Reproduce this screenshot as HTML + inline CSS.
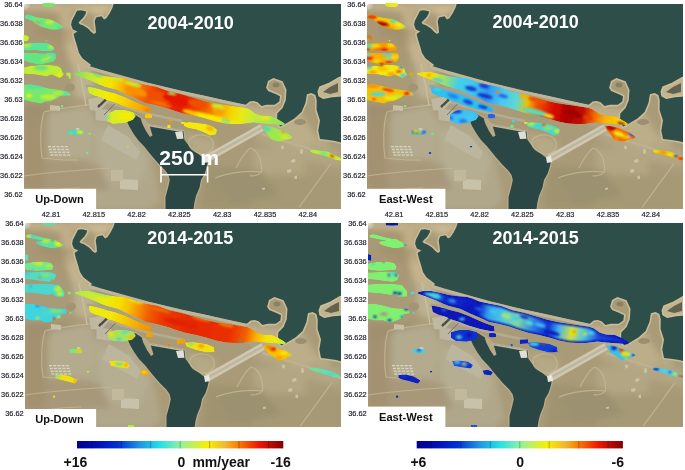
<!DOCTYPE html>
<html><head><meta charset="utf-8">
<style>
html,body{margin:0;padding:0;background:#fff;width:685px;height:470px;overflow:hidden}
svg{position:absolute;left:0;top:0}
text{font-family:"Liberation Sans",sans-serif}
.tk{font-size:7.4px;fill:#1c1c26;stroke:#1c1c26;stroke-width:0.18px}
.ti{font-size:18px;font-weight:bold;fill:#fff}
.lb{font-size:11.6px;font-weight:bold;fill:#111}
.cb{font-size:14px;font-weight:bold;fill:#111}
</style></head>
<body>
<svg width="685" height="470" viewBox="0 0 685 470">
<defs>
<filter id="bl" x="-5%" y="-5%" width="110%" height="110%"><feGaussianBlur stdDeviation="0.7"/></filter>
<filter id="bl2" x="-10%" y="-10%" width="120%" height="120%"><feGaussianBlur stdDeviation="1.5"/></filter>
<filter id="bl3" x="-10%" y="-10%" width="120%" height="120%"><feGaussianBlur stdDeviation="3"/></filter>
<filter id="pb" x="-10%" y="-10%" width="120%" height="120%"><feGaussianBlur stdDeviation="1.1"/></filter>
<filter id="mb" x="0" y="0" width="1" height="1"><feGaussianBlur stdDeviation="0.5"/></filter>
<filter id="sb" x="-2%" y="-2%" width="104%" height="104%"><feGaussianBlur stdDeviation="0.4"/></filter>
<linearGradient id="jet" x1="0" x2="1" y1="0" y2="0">
<stop offset="0" stop-color="#000090"/><stop offset="0.1" stop-color="#0010b8"/><stop offset="0.2" stop-color="#0030d8"/><stop offset="0.3" stop-color="#2090e0"/><stop offset="0.4" stop-color="#20e0e8"/>
<stop offset="0.5" stop-color="#90f0a0"/><stop offset="0.58" stop-color="#d0f040"/><stop offset="0.63" stop-color="#f8f000"/><stop offset="0.72" stop-color="#f0b830"/><stop offset="0.78" stop-color="#f88000"/><stop offset="0.88" stop-color="#f01800"/><stop offset="1" stop-color="#800000"/>
</linearGradient>
<linearGradient id="gTL" gradientUnits="userSpaceOnUse" x1="74" y1="74" x2="285" y2="124"><stop offset="0.000" stop-color="#80dc60"/><stop offset="0.066" stop-color="#b4e840"/><stop offset="0.123" stop-color="#e0ea18"/><stop offset="0.180" stop-color="#f4e200"/><stop offset="0.227" stop-color="#f8b800"/><stop offset="0.275" stop-color="#f89000"/><stop offset="0.322" stop-color="#f46c00"/><stop offset="0.384" stop-color="#ee4000"/><stop offset="0.445" stop-color="#e82400"/><stop offset="0.526" stop-color="#e61e00"/><stop offset="0.597" stop-color="#f04800"/><stop offset="0.654" stop-color="#f47800"/><stop offset="0.701" stop-color="#f8a800"/><stop offset="0.749" stop-color="#f4d800"/><stop offset="0.796" stop-color="#e8ea18"/><stop offset="0.858" stop-color="#c0ea3c"/><stop offset="0.919" stop-color="#a8e84c"/><stop offset="1.000" stop-color="#90e060"/></linearGradient><linearGradient id="gTL2" gradientUnits="userSpaceOnUse" x1="88" y1="88" x2="150" y2="110"><stop offset="0.000" stop-color="#c8ec30"/><stop offset="0.194" stop-color="#e8ec10"/><stop offset="0.387" stop-color="#f4ea00"/><stop offset="0.597" stop-color="#f8d000"/><stop offset="0.806" stop-color="#f8b000"/><stop offset="1.000" stop-color="#f89000"/></linearGradient><linearGradient id="gTR" gradientUnits="userSpaceOnUse" x1="74" y1="74" x2="285" y2="124"><stop offset="0.000" stop-color="#f0e010"/><stop offset="0.052" stop-color="#f4e000"/><stop offset="0.123" stop-color="#a8e060"/><stop offset="0.194" stop-color="#40d0e8"/><stop offset="0.265" stop-color="#40c8f0"/><stop offset="0.336" stop-color="#3098f0"/><stop offset="0.408" stop-color="#48c8f0"/><stop offset="0.479" stop-color="#60d8d0"/><stop offset="0.526" stop-color="#f0c000"/><stop offset="0.573" stop-color="#f05000"/><stop offset="0.645" stop-color="#d81000"/><stop offset="0.716" stop-color="#b00000"/><stop offset="0.787" stop-color="#c01000"/><stop offset="0.834" stop-color="#f06000"/><stop offset="0.891" stop-color="#f8b000"/><stop offset="0.953" stop-color="#f8d000"/><stop offset="1.000" stop-color="#f0e010"/></linearGradient><linearGradient id="gBL" gradientUnits="userSpaceOnUse" x1="74" y1="74" x2="285" y2="124"><stop offset="0.000" stop-color="#b0e848"/><stop offset="0.076" stop-color="#c8ec30"/><stop offset="0.147" stop-color="#e8ec10"/><stop offset="0.209" stop-color="#f4e000"/><stop offset="0.256" stop-color="#f8c000"/><stop offset="0.303" stop-color="#f89000"/><stop offset="0.351" stop-color="#f06000"/><stop offset="0.408" stop-color="#ec3c00"/><stop offset="0.550" stop-color="#e82800"/><stop offset="0.739" stop-color="#ea3000"/><stop offset="0.810" stop-color="#f06000"/><stop offset="0.858" stop-color="#f8b000"/><stop offset="0.905" stop-color="#f4e008"/><stop offset="0.953" stop-color="#eeea10"/><stop offset="1.000" stop-color="#b0e850"/></linearGradient><linearGradient id="gBL2" gradientUnits="userSpaceOnUse" x1="88" y1="88" x2="150" y2="110"><stop offset="0.000" stop-color="#e8ec10"/><stop offset="0.355" stop-color="#f4e808"/><stop offset="0.597" stop-color="#f8c800"/><stop offset="0.839" stop-color="#f8a000"/><stop offset="1.000" stop-color="#f89000"/></linearGradient><linearGradient id="gBR" gradientUnits="userSpaceOnUse" x1="74" y1="74" x2="285" y2="124"><stop offset="0.000" stop-color="#40d0e0"/><stop offset="0.076" stop-color="#50d8e0"/><stop offset="0.123" stop-color="#1030d0"/><stop offset="0.218" stop-color="#0a20c8"/><stop offset="0.289" stop-color="#0818c0"/><stop offset="0.336" stop-color="#30a0f0"/><stop offset="0.408" stop-color="#50c8e0"/><stop offset="0.479" stop-color="#80d8a0"/><stop offset="0.550" stop-color="#3080e8"/><stop offset="0.621" stop-color="#1030d0"/><stop offset="0.668" stop-color="#40b0f0"/><stop offset="0.730" stop-color="#d0e040"/><stop offset="0.787" stop-color="#50c8e0"/><stop offset="0.858" stop-color="#2050e0"/><stop offset="0.929" stop-color="#1030d0"/><stop offset="1.000" stop-color="#1030d0"/></linearGradient>
<radialGradient id="corner"><stop offset="0" stop-color="#f4f4f4" stop-opacity="0.9"/><stop offset="0.5" stop-color="#e0e0e0" stop-opacity="0.5"/><stop offset="1" stop-color="#ffffff" stop-opacity="0"/></radialGradient>
<clipPath id="cm"><rect x="24" y="4" width="317" height="205"/></clipPath>
<clipPath id="cTL"><path d="M42.0,3.2 L48.0,2.9 L55.0,3.3 L55.3,5.5 L53.0,6.9 L46.0,7.0 L42.2,6.0 Z"/><path d="M25.5,15.3 L28.1,14.5 L31.6,15.3 L36.0,17.1 L42.1,18.0 L48.3,18.8 L53.5,20.6 L58.8,23.6 L63.2,26.3 L62.3,28.0 L57.0,29.8 L51.8,29.8 L44.8,28.0 L39.5,26.3 L35.1,23.6 L32.5,21.0 L29.0,19.7 L25.5,18.4 L24.5,17.0 Z"/><path d="M23.3,35.0 L27.0,35.2 L29.0,37.0 L28.5,40.5 L25.0,41.6 L23.3,41.0 Z"/><path d="M45.6,39.8 L47.4,39.8 L47.4,41.6 L45.6,41.6 Z"/><path d="M23.8,43.8 L30.8,42.9 L39.5,42.4 L48.3,43.3 L53.5,46.4 L54.4,49.9 L50.9,51.2 L43.9,51.2 L35.1,50.3 L27.3,50.8 L23.8,50.3 Z"/><path d="M23.8,52.5 L35.1,53.0 L44.8,53.4 L50.0,52.5 L55.7,53.4 L56.2,57.8 L54.4,61.3 L48.3,63.0 L39.5,64.8 L30.8,63.0 L23.8,60.4 Z"/><path d="M23.8,67.4 L30.8,65.7 L46.5,64.8 L57.0,65.7 L61.4,68.3 L62.3,71.8 L64.0,74.6 L61.5,77.0 L59.7,78.1 L56.0,76.5 L51.8,74.6 L46.5,76.4 L35.1,74.6 L23.8,73.8 Z"/><path d="M66.2,72.4 L70.6,72.6 L71.0,75.5 L70.5,79.0 L68.9,79.0 L68.5,76.4 L66.2,75.5 Z"/><path d="M23.8,84.7 L30.8,84.3 L39.5,86.0 L48.3,88.2 L57.0,89.5 L63.2,90.4 L68.4,92.2 L71.0,93.9 L69.7,95.7 L60.5,95.7 L57.0,98.3 L50.9,100.9 L44.8,101.8 L41.3,103.5 L30.8,101.8 L23.8,100.0 Z"/><path d="M60.8,105.0 L63.4,105.0 L63.4,107.6 L60.8,107.6 Z"/><path d="M68.0,129.8 L75.5,130.0 L83.8,130.2 L83.5,134.6 L76.0,135.0 L68.0,135.0 Z"/><path d="M88.2,132.4 L91.2,132.4 L91.2,135.0 L88.2,135.0 Z"/><path d="M85.8,152.0 L88.2,152.0 L88.2,154.0 L85.8,154.0 Z"/><path d="M126.7,146.0 L129.2,146.0 L129.2,147.6 L126.7,147.6 Z"/><path d="M74.1,73.1 L79.3,71.9 L87.5,71.9 L95.7,73.7 L105.0,76.0 L114.4,77.2 L122.6,77.8 L128.4,79.5 L135.4,82.4 L145.0,84.5 L156.7,86.8 L168.4,91.2 L180.0,93.8 L191.7,97.3 L203.4,100.8 L215.0,103.2 L226.7,104.9 L238.4,106.7 L245.4,107.8 L250.0,109.6 L255.9,113.7 L261.7,115.4 L271.0,116.0 L276.9,118.4 L281.6,121.3 L285.0,123.6 L283.9,125.4 L278.0,124.8 L271.0,124.2 L261.7,123.6 L253.5,122.5 L250.0,123.0 L241.9,124.0 L232.5,124.0 L225.0,123.5 L215.0,121.5 L205.0,118.5 L195.0,116.0 L185.0,114.0 L175.0,111.0 L165.0,107.5 L155.0,105.0 L145.0,103.0 L135.4,98.5 L126.0,94.5 L116.7,90.0 L105.0,87.0 L99.2,84.8 L93.4,82.0 L81.7,77.5 L74.1,74.8 Z"/><path d="M87.5,86.5 L93.4,87.5 L100.4,89.3 L105.0,90.8 L115.0,93.2 L125.0,97.0 L131.9,100.3 L140.0,103.8 L147.0,106.3 L150.0,107.3 L150.5,112.0 L147.0,112.2 L135.9,110.0 L124.2,106.5 L114.0,102.5 L107.4,100.5 L100.8,97.5 L95.0,96.0 L88.7,93.0 Z"/><path d="M145.0,114.3 L149.0,113.8 L152.0,114.5 L152.0,118.0 L148.0,118.5 L145.0,117.8 Z"/><path d="M107.0,114.0 L115.0,110.0 L125.0,110.0 L133.0,112.0 L136.0,116.0 L133.0,120.0 L125.0,123.0 L113.0,124.0 L107.0,121.0 Z"/><path d="M169.0,119.5 L172.4,119.5 L172.4,122.4 L169.0,122.4 Z"/><path d="M181.2,121.8 L184.7,121.8 L184.7,124.1 L181.2,124.1 Z"/><path d="M167.2,124.7 L170.7,124.7 L170.7,128.0 L167.2,128.0 Z"/><path d="M183.5,122.5 L190.0,122.0 L198.0,123.0 L205.7,124.0 L212.0,126.0 L217.0,129.5 L216.0,134.5 L210.0,135.5 L203.0,132.0 L196.0,129.5 L188.0,128.0 L184.0,126.0 Z"/><path d="M262.3,126.0 L267.6,126.0 L275.7,127.7 L280.4,130.0 L285.0,131.8 L289.7,134.7 L293.2,137.0 L290.9,138.8 L285.0,140.0 L280.4,141.7 L275.7,141.1 L271.0,139.4 L267.6,134.7 L264.0,130.0 Z"/><path d="M310.0,149.9 L315.7,149.9 L321.8,150.8 L327.9,151.6 L332.3,153.4 L337.6,156.5 L341.0,158.2 L341.0,160.8 L335.8,160.0 L330.5,158.2 L325.3,156.0 L320.0,154.7 L313.9,153.4 L310.4,152.1 Z"/></clipPath><clipPath id="cTR"><path d="M42.0,3.2 L48.0,2.9 L55.0,3.3 L55.3,5.5 L53.0,6.9 L46.0,7.0 L42.2,6.0 Z"/><path d="M25.5,15.3 L28.1,14.5 L31.6,15.3 L36.0,17.1 L42.1,18.0 L48.3,18.8 L53.5,20.6 L58.8,23.6 L63.2,26.3 L62.3,28.0 L57.0,29.8 L51.8,29.8 L44.8,28.0 L39.5,26.3 L35.1,23.6 L32.5,21.0 L29.0,19.7 L25.5,18.4 L24.5,17.0 Z"/><path d="M23.3,35.0 L27.0,35.2 L29.0,37.0 L28.5,40.5 L25.0,41.6 L23.3,41.0 Z"/><path d="M45.6,39.8 L47.4,39.8 L47.4,41.6 L45.6,41.6 Z"/><path d="M23.8,43.8 L30.8,42.9 L39.5,42.4 L48.3,43.3 L53.5,46.4 L54.4,49.9 L50.9,51.2 L43.9,51.2 L35.1,50.3 L27.3,50.8 L23.8,50.3 Z"/><path d="M23.8,52.5 L35.1,53.0 L44.8,53.4 L50.0,52.5 L55.7,53.4 L56.2,57.8 L54.4,61.3 L48.3,63.0 L39.5,64.8 L30.8,63.0 L23.8,60.4 Z"/><path d="M23.8,67.4 L30.8,65.7 L46.5,64.8 L57.0,65.7 L61.4,68.3 L62.3,71.8 L64.0,74.6 L61.5,77.0 L59.7,78.1 L56.0,76.5 L51.8,74.6 L46.5,76.4 L35.1,74.6 L23.8,73.8 Z"/><path d="M66.2,72.4 L70.6,72.6 L71.0,75.5 L70.5,79.0 L68.9,79.0 L68.5,76.4 L66.2,75.5 Z"/><path d="M23.8,84.7 L30.8,84.3 L39.5,86.0 L48.3,88.2 L57.0,89.5 L63.2,90.4 L68.4,92.2 L71.0,93.9 L69.7,95.7 L60.5,95.7 L57.0,98.3 L50.9,100.9 L44.8,101.8 L41.3,103.5 L30.8,101.8 L23.8,100.0 Z"/><path d="M60.8,105.0 L63.4,105.0 L63.4,107.6 L60.8,107.6 Z"/><path d="M68.0,129.8 L75.5,130.0 L83.8,130.2 L83.5,134.6 L76.0,135.0 L68.0,135.0 Z"/><path d="M88.2,132.4 L91.2,132.4 L91.2,135.0 L88.2,135.0 Z"/><path d="M85.8,152.0 L88.2,152.0 L88.2,154.0 L85.8,154.0 Z"/><path d="M126.7,146.0 L129.2,146.0 L129.2,147.6 L126.7,147.6 Z"/><path d="M74.1,73.1 L79.3,71.9 L87.5,71.9 L95.7,73.7 L105.0,76.0 L114.4,77.2 L122.6,77.8 L128.4,79.5 L135.4,82.4 L145.0,84.5 L156.7,86.8 L168.4,91.2 L180.0,93.8 L191.7,97.3 L203.4,100.8 L215.0,103.2 L226.7,104.9 L238.4,106.7 L245.4,107.8 L250.0,109.6 L255.9,113.7 L261.7,115.4 L271.0,116.0 L276.9,118.4 L281.6,121.3 L285.0,123.6 L283.9,125.4 L278.0,124.8 L271.0,124.2 L261.7,123.6 L253.5,122.5 L250.0,123.0 L241.9,124.0 L232.5,124.0 L225.0,123.5 L215.0,121.5 L205.0,118.5 L195.0,116.0 L185.0,114.0 L175.0,111.0 L165.0,107.5 L155.0,105.0 L145.0,103.0 L135.4,98.5 L126.0,94.5 L116.7,90.0 L105.0,87.0 L99.2,84.8 L93.4,82.0 L81.7,77.5 L74.1,74.8 Z"/><path d="M87.5,86.5 L93.4,87.5 L100.4,89.3 L105.0,90.8 L115.0,93.2 L125.0,97.0 L131.9,100.3 L140.0,103.8 L147.0,106.3 L150.0,107.3 L150.5,112.0 L147.0,112.2 L135.9,110.0 L124.2,106.5 L114.0,102.5 L107.4,100.5 L100.8,97.5 L95.0,96.0 L88.7,93.0 Z"/><path d="M145.0,114.3 L149.0,113.8 L152.0,114.5 L152.0,118.0 L148.0,118.5 L145.0,117.8 Z"/><path d="M107.0,114.0 L115.0,110.0 L125.0,110.0 L133.0,112.0 L136.0,116.0 L133.0,120.0 L125.0,123.0 L113.0,124.0 L107.0,121.0 Z"/><path d="M169.0,119.5 L172.4,119.5 L172.4,122.4 L169.0,122.4 Z"/><path d="M181.2,121.8 L184.7,121.8 L184.7,124.1 L181.2,124.1 Z"/><path d="M167.2,124.7 L170.7,124.7 L170.7,128.0 L167.2,128.0 Z"/><path d="M183.5,122.5 L190.0,122.0 L198.0,123.0 L205.7,124.0 L212.0,126.0 L217.0,129.5 L216.0,134.5 L210.0,135.5 L203.0,132.0 L196.0,129.5 L188.0,128.0 L184.0,126.0 Z"/><path d="M262.3,126.0 L267.6,126.0 L275.7,127.7 L280.4,130.0 L285.0,131.8 L289.7,134.7 L293.2,137.0 L290.9,138.8 L285.0,140.0 L280.4,141.7 L275.7,141.1 L271.0,139.4 L267.6,134.7 L264.0,130.0 Z"/><path d="M310.0,149.9 L315.7,149.9 L321.8,150.8 L327.9,151.6 L332.3,153.4 L337.6,156.5 L341.0,158.2 L341.0,160.8 L335.8,160.0 L330.5,158.2 L325.3,156.0 L320.0,154.7 L313.9,153.4 L310.4,152.1 Z"/></clipPath><clipPath id="cBL"><path d="M41.7,3.1 L48.0,2.9 L54.0,3.1 L54.0,6.6 L48.0,6.8 L41.7,6.6 Z"/><path d="M25.1,16.2 L29.0,14.9 L35.1,16.6 L42.1,18.4 L48.3,19.7 L51.8,19.7 L54.4,21.0 L58.8,23.6 L63.2,26.3 L59.7,28.0 L53.5,29.3 L48.3,28.9 L42.1,27.6 L36.9,25.8 L34.7,23.6 L36.0,22.5 L42.1,21.5 L35.1,20.6 L29.0,19.3 L25.5,18.4 Z"/><path d="M23.8,35.0 L27.3,35.9 L27.3,42.0 L23.8,41.0 Z"/><path d="M23.8,44.6 L32.5,42.9 L42.1,42.4 L50.0,43.8 L52.7,47.3 L51.8,50.8 L43.9,51.6 L35.1,52.1 L27.3,51.2 L23.8,50.3 Z"/><path d="M23.8,53.4 L35.1,53.0 L43.0,52.5 L51.8,53.4 L55.3,56.0 L53.5,61.3 L48.3,63.0 L40.0,62.0 L33.0,61.0 L28.0,60.5 L23.8,60.0 Z"/><path d="M23.8,65.5 L35.0,64.8 L50.0,65.0 L58.0,66.0 L60.5,69.0 L63.2,72.5 L63.2,77.8 L54.4,77.8 L51.8,75.1 L46.5,76.0 L35.1,74.3 L23.8,73.4 Z"/><path d="M66.7,72.5 L70.2,72.5 L70.2,75.6 L66.7,75.6 Z"/><path d="M23.8,84.8 L30.8,84.8 L39.5,86.5 L48.3,89.1 L57.0,89.6 L64.9,90.0 L65.8,94.4 L59.7,95.3 L59.7,98.8 L55.3,100.5 L48.3,103.2 L43.9,103.6 L39.5,101.4 L30.8,101.4 L23.8,99.7 Z"/><path d="M68.4,93.1 L70.6,93.1 L70.6,95.3 L68.4,95.3 Z"/><path d="M74.1,73.1 L79.3,71.9 L87.5,71.9 L95.7,73.7 L105.0,76.0 L114.4,77.2 L122.6,77.8 L128.4,79.5 L135.4,82.4 L145.0,84.5 L156.7,86.8 L168.4,91.2 L180.0,93.8 L191.7,97.3 L203.4,100.8 L215.0,103.2 L226.7,104.9 L238.4,106.7 L245.4,107.8 L250.0,109.6 L255.9,113.7 L261.7,115.4 L271.0,116.0 L276.9,118.4 L281.6,121.3 L285.0,123.6 L283.9,125.4 L278.0,124.8 L271.0,124.2 L261.7,123.6 L253.5,122.5 L250.0,123.0 L241.9,124.0 L232.5,124.0 L225.0,123.5 L215.0,121.5 L205.0,118.5 L195.0,116.0 L185.0,114.0 L175.0,111.0 L165.0,107.5 L155.0,105.0 L145.0,103.0 L135.4,98.5 L126.0,94.5 L116.7,90.0 L105.0,87.0 L99.2,84.8 L93.4,82.0 L81.7,77.5 L74.1,74.8 Z"/><path d="M87.5,86.5 L93.4,87.5 L100.4,89.3 L105.0,90.8 L115.0,93.2 L125.0,97.0 L131.9,100.3 L140.0,103.8 L147.0,106.3 L150.0,107.3 L150.5,112.0 L147.0,112.2 L135.9,110.0 L124.2,106.5 L114.0,102.5 L107.4,100.5 L100.8,97.5 L95.0,96.0 L88.7,93.0 Z"/><path d="M145.0,114.3 L149.0,113.8 L152.0,114.5 L152.0,118.0 L148.0,118.5 L145.0,117.8 Z"/><path d="M106.9,113.0 L115.0,111.0 L125.0,111.0 L133.0,113.0 L135.0,117.0 L131.0,121.0 L122.0,122.7 L112.0,122.0 L107.0,119.0 Z"/><path d="M183.5,123.5 L192.0,123.0 L200.0,124.0 L205.7,125.0 L213.0,128.0 L213.7,133.0 L205.0,133.6 L195.0,131.0 L186.0,128.0 Z"/><path d="M261.7,127.1 L267.6,126.0 L273.4,127.7 L278.0,130.0 L283.9,131.2 L289.7,134.7 L292.1,136.5 L287.4,138.2 L282.7,140.5 L278.0,141.7 L272.2,137.6 L267.6,134.7 L264.0,130.0 Z"/><path d="M309.0,148.5 L316.0,149.0 L324.0,150.5 L331.0,152.5 L339.0,156.5 L339.0,159.3 L331.0,157.5 L322.0,155.0 L314.0,152.5 L309.0,151.0 Z"/><path d="M68.4,130.0 L75.0,129.7 L81.2,130.5 L81.0,134.4 L72.0,134.2 L68.4,133.5 Z"/><path d="M108.0,142.0 L115.0,141.4 L124.0,142.5 L129.0,146.0 L127.0,149.5 L118.0,148.5 L110.0,147.0 Z"/><path d="M138.5,151.5 L144.0,150.7 L149.0,153.0 L147.0,156.5 L140.0,155.5 Z"/><path d="M54.4,156.0 L62.0,155.4 L70.0,157.5 L76.6,161.5 L74.0,164.7 L66.0,162.5 L58.0,160.5 L54.4,159.0 Z"/><path d="M52.0,176.4 L54.4,176.4 L54.4,178.7 L52.0,178.7 Z"/><path d="M85.9,151.9 L88.2,151.9 L88.2,153.5 L85.9,153.5 Z"/><path d="M166.5,125.0 L168.8,125.0 L168.8,127.4 L166.5,127.4 Z"/><path d="M175.8,120.5 L184.0,120.3 L184.0,124.5 L175.8,125.0 Z"/><path d="M127.0,206.0 L133.0,206.0 L133.0,209.0 L127.0,209.0 Z"/></clipPath><clipPath id="cBR"><path d="M41.7,3.1 L48.0,2.9 L54.0,3.1 L54.0,6.6 L48.0,6.8 L41.7,6.6 Z"/><path d="M25.1,16.2 L29.0,14.9 L35.1,16.6 L42.1,18.4 L48.3,19.7 L51.8,19.7 L54.4,21.0 L58.8,23.6 L63.2,26.3 L59.7,28.0 L53.5,29.3 L48.3,28.9 L42.1,27.6 L36.9,25.8 L34.7,23.6 L36.0,22.5 L42.1,21.5 L35.1,20.6 L29.0,19.3 L25.5,18.4 Z"/><path d="M23.8,35.0 L27.3,35.9 L27.3,42.0 L23.8,41.0 Z"/><path d="M23.8,44.6 L32.5,42.9 L42.1,42.4 L50.0,43.8 L52.7,47.3 L51.8,50.8 L43.9,51.6 L35.1,52.1 L27.3,51.2 L23.8,50.3 Z"/><path d="M23.8,53.4 L35.1,53.0 L43.0,52.5 L51.8,53.4 L55.3,56.0 L53.5,61.3 L48.3,63.0 L40.0,62.0 L33.0,61.0 L28.0,60.5 L23.8,60.0 Z"/><path d="M23.8,65.5 L35.0,64.8 L50.0,65.0 L58.0,66.0 L60.5,69.0 L63.2,72.5 L63.2,77.8 L54.4,77.8 L51.8,75.1 L46.5,76.0 L35.1,74.3 L23.8,73.4 Z"/><path d="M66.7,72.5 L70.2,72.5 L70.2,75.6 L66.7,75.6 Z"/><path d="M23.8,84.8 L30.8,84.8 L39.5,86.5 L48.3,89.1 L57.0,89.6 L64.9,90.0 L65.8,94.4 L59.7,95.3 L59.7,98.8 L55.3,100.5 L48.3,103.2 L43.9,103.6 L39.5,101.4 L30.8,101.4 L23.8,99.7 Z"/><path d="M68.4,93.1 L70.6,93.1 L70.6,95.3 L68.4,95.3 Z"/><path d="M74.1,73.1 L79.3,71.9 L87.5,71.9 L95.7,73.7 L105.0,76.0 L114.4,77.2 L122.6,77.8 L128.4,79.5 L135.4,82.4 L145.0,84.5 L156.7,86.8 L168.4,91.2 L180.0,93.8 L191.7,97.3 L203.4,100.8 L215.0,103.2 L226.7,104.9 L238.4,106.7 L245.4,107.8 L250.0,109.6 L255.9,113.7 L261.7,115.4 L271.0,116.0 L276.9,118.4 L281.6,121.3 L285.0,123.6 L283.9,125.4 L278.0,124.8 L271.0,124.2 L261.7,123.6 L253.5,122.5 L250.0,123.0 L241.9,124.0 L232.5,124.0 L225.0,123.5 L215.0,121.5 L205.0,118.5 L195.0,116.0 L185.0,114.0 L175.0,111.0 L165.0,107.5 L155.0,105.0 L145.0,103.0 L135.4,98.5 L126.0,94.5 L116.7,90.0 L105.0,87.0 L99.2,84.8 L93.4,82.0 L81.7,77.5 L74.1,74.8 Z"/><path d="M87.5,86.5 L93.4,87.5 L100.4,89.3 L105.0,90.8 L115.0,93.2 L125.0,97.0 L131.9,100.3 L140.0,103.8 L147.0,106.3 L150.0,107.3 L150.5,112.0 L147.0,112.2 L135.9,110.0 L124.2,106.5 L114.0,102.5 L107.4,100.5 L100.8,97.5 L95.0,96.0 L88.7,93.0 Z"/><path d="M145.0,114.3 L149.0,113.8 L152.0,114.5 L152.0,118.0 L148.0,118.5 L145.0,117.8 Z"/><path d="M106.9,113.0 L115.0,111.0 L125.0,111.0 L133.0,113.0 L135.0,117.0 L131.0,121.0 L122.0,122.7 L112.0,122.0 L107.0,119.0 Z"/><path d="M183.5,123.5 L192.0,123.0 L200.0,124.0 L205.7,125.0 L213.0,128.0 L213.7,133.0 L205.0,133.6 L195.0,131.0 L186.0,128.0 Z"/><path d="M261.7,127.1 L267.6,126.0 L273.4,127.7 L278.0,130.0 L283.9,131.2 L289.7,134.7 L292.1,136.5 L287.4,138.2 L282.7,140.5 L278.0,141.7 L272.2,137.6 L267.6,134.7 L264.0,130.0 Z"/><path d="M309.0,148.5 L316.0,149.0 L324.0,150.5 L331.0,152.5 L339.0,156.5 L339.0,159.3 L331.0,157.5 L322.0,155.0 L314.0,152.5 L309.0,151.0 Z"/><path d="M68.4,130.0 L75.0,129.7 L81.2,130.5 L81.0,134.4 L72.0,134.2 L68.4,133.5 Z"/><path d="M108.0,142.0 L115.0,141.4 L124.0,142.5 L129.0,146.0 L127.0,149.5 L118.0,148.5 L110.0,147.0 Z"/><path d="M138.5,151.5 L144.0,150.7 L149.0,153.0 L147.0,156.5 L140.0,155.5 Z"/><path d="M54.4,156.0 L62.0,155.4 L70.0,157.5 L76.6,161.5 L74.0,164.7 L66.0,162.5 L58.0,160.5 L54.4,159.0 Z"/><path d="M52.0,176.4 L54.4,176.4 L54.4,178.7 L52.0,178.7 Z"/><path d="M85.9,151.9 L88.2,151.9 L88.2,153.5 L85.9,153.5 Z"/><path d="M166.5,125.0 L168.8,125.0 L168.8,127.4 L166.5,127.4 Z"/><path d="M175.8,120.5 L184.0,120.3 L184.0,124.5 L175.8,125.0 Z"/><path d="M127.0,206.0 L133.0,206.0 L133.0,209.0 L127.0,209.0 Z"/></clipPath>
<g id="base"><g clip-path="url(#cm)"><g filter="url(#mb)"><rect x="24" y="4" width="317" height="205" fill="#a99b78"/><g filter="url(#bl3)"><path fill="#cbb993" d="M24.0,4.0 L115.0,4.0 L112.0,10.0 L100.0,17.0 L93.0,14.0 L86.0,10.0 L70.0,9.0 L60.0,12.0 L45.0,9.0 L24.0,9.0 Z"/><path fill="#a99774" d="M24.0,12.0 L60.0,14.0 L66.0,30.0 L66.0,62.0 L24.0,64.0 Z"/><path fill="#c6b48e" d="M60.0,10.0 L72.0,10.0 L76.0,40.0 L82.0,56.0 L92.0,66.0 L80.0,70.0 L70.0,62.0 L64.0,40.0 Z"/><path fill="#9e8b69" d="M38.0,29.0 L72.0,31.0 L72.0,35.0 L38.0,33.0 Z"/><path fill="#a08d6b" d="M50.0,38.0 L73.0,39.0 L73.0,41.5 L50.0,41.0 Z"/><path fill="#c0ae88" d="M58.0,5.0 L73.0,5.0 L73.0,28.0 L61.0,28.0 Z"/><path fill="#9f8e6e" d="M24.0,105.0 L42.0,106.0 L42.0,113.0 L24.0,113.0 Z"/><path fill="#a08f70" d="M24.0,104.0 L70.0,104.0 L75.0,112.0 L50.0,118.0 L24.0,120.0 Z"/><path fill="#a3916f" d="M24.0,120.0 L42.0,120.0 L44.0,190.0 L24.0,190.0 Z"/><path fill="#bcb192" d="M72.0,64.0 L92.0,68.0 L96.0,96.0 L86.0,100.0 L74.0,96.0 Z"/><path fill="#b4ab8f" d="M48.0,112.0 L88.0,106.0 L96.0,125.0 L90.0,160.0 L48.0,158.0 Z"/><path fill="#b0a78b" d="M96.0,120.0 L125.0,114.0 L150.0,150.0 L160.0,200.0 L150.0,209.0 L96.0,209.0 L80.0,190.0 L90.0,160.0 Z"/><path fill="#b6ae92" d="M96.0,128.0 L130.0,135.0 L148.0,160.0 L140.0,185.0 L100.0,180.0 Z"/><path fill="#a0946f" d="M205.0,165.0 L250.0,168.0 L262.0,185.0 L250.0,209.0 L200.0,209.0 Z"/><path fill="#a59a75" d="M262.0,180.0 L341.0,175.0 L341.0,209.0 L250.0,209.0 Z"/><path fill="#b2a683" d="M252.0,148.0 L305.0,150.0 L305.0,175.0 L254.0,174.0 Z"/><path fill="#b8ab88" d="M295.0,130.0 L328.0,140.0 L330.0,152.0 L297.0,152.0 Z"/><path fill="#b3a683" d="M255.0,125.0 L341.0,152.0 L341.0,168.0 L300.0,160.0 L255.0,140.0 Z"/><path fill="#a89f85" d="M92.0,96.0 L125.0,104.0 L125.0,122.0 L95.0,118.0 Z"/><path fill="#bcae89" d="M240.0,104.0 L300.0,112.0 L318.0,140.0 L300.0,150.0 L262.0,128.0 L245.0,120.0 Z"/><path fill="#b6a985" d="M184.0,133.0 L214.0,140.0 L216.0,158.0 L195.0,158.0 Z"/><path fill="#9c916f" d="M215.0,175.0 L260.0,170.0 L280.0,195.0 L230.0,205.0 Z"/><path fill="#a7987a" d="M44.0,160.0 L100.0,165.0 L110.0,190.0 L44.0,190.0 Z"/></g><path fill="none" stroke="#c9bb96" stroke-width="3.2" stroke-linejoin="round" d="M113.7,4.0 L341.0,4.0 L341.0,142.5 L335.0,141.0 L328.5,140.0 L320.0,139.0 L318.3,130.6 L320.0,120.4 L316.6,110.0 L316.7,100.2 L315.4,95.0 L311.5,93.0 L306.9,94.3 L305.5,102.8 L301.6,112.0 L294.4,118.6 L285.2,123.9 L280.0,126.5 L277.0,120.0 L277.3,113.4 L282.6,108.1 L285.8,100.2 L286.5,89.7 L282.6,81.2 L273.4,77.9 L268.0,81.0 L266.1,87.7 L268.1,91.0 L276.0,94.3 L280.0,96.3 L279.3,101.5 L274.7,104.8 L266.8,104.8 L261.5,106.1 L257.6,102.2 L253.6,100.9 L249.7,101.5 L245.4,105.1 L226.7,101.0 L203.4,95.8 L180.0,90.8 L146.7,82.8 L123.4,76.4 L100.0,69.9 L88.7,66.4 L91.3,65.1 L87.9,62.4 L82.4,58.3 L79.0,52.9 L77.0,46.1 L74.9,39.3 L73.6,33.9 L77.3,31.5 L72.9,29.4 L71.1,25.0 L71.8,21.0 L74.6,15.5 L77.0,10.7 L81.0,10.2 L86.2,11.5 L85.5,14.0 L83.4,17.5 L79.7,21.3 L78.5,22.8 L80.0,24.3 L83.0,25.3 L88.0,28.4 L91.3,32.0 L94.0,33.9 L96.0,32.5 L95.5,27.0 L94.7,21.6 L96.0,17.5 L101.5,16.2 L104.0,19.4 L106.4,18.2 L109.7,13.3 L112.5,7.7 Z"/><path fill="#2f4f4a" d="M113.7,4.0 L341.0,4.0 L341.0,142.5 L335.0,141.0 L328.5,140.0 L320.0,139.0 L318.3,130.6 L320.0,120.4 L316.6,110.0 L316.7,100.2 L315.4,95.0 L311.5,93.0 L306.9,94.3 L305.5,102.8 L301.6,112.0 L294.4,118.6 L285.2,123.9 L280.0,126.5 L277.0,120.0 L277.3,113.4 L282.6,108.1 L285.8,100.2 L286.5,89.7 L282.6,81.2 L273.4,77.9 L268.0,81.0 L266.1,87.7 L268.1,91.0 L276.0,94.3 L280.0,96.3 L279.3,101.5 L274.7,104.8 L266.8,104.8 L261.5,106.1 L257.6,102.2 L253.6,100.9 L249.7,101.5 L245.4,105.1 L226.7,101.0 L203.4,95.8 L180.0,90.8 L146.7,82.8 L123.4,76.4 L100.0,69.9 L88.7,66.4 L91.3,65.1 L87.9,62.4 L82.4,58.3 L79.0,52.9 L77.0,46.1 L74.9,39.3 L73.6,33.9 L77.3,31.5 L72.9,29.4 L71.1,25.0 L71.8,21.0 L74.6,15.5 L77.0,10.7 L81.0,10.2 L86.2,11.5 L85.5,14.0 L83.4,17.5 L79.7,21.3 L78.5,22.8 L80.0,24.3 L83.0,25.3 L88.0,28.4 L91.3,32.0 L94.0,33.9 L96.0,32.5 L95.5,27.0 L94.7,21.6 L96.0,17.5 L101.5,16.2 L104.0,19.4 L106.4,18.2 L109.7,13.3 L112.5,7.7 Z"/><path fill="#c2b48f" stroke="#cdbf9a" stroke-width="1.5" d="M318.3,91.5 L320.0,87.2 L328.5,83.8 L338.7,77.9 L341.0,77.0 L341.0,95.7 L331.9,96.6 L323.4,98.3 L319.1,95.7 Z"/><path fill="#626250" filter="url(#bl)" d="M323,92 L330,87 L338,83 L338,92 L330,94 Z"/><g filter="url(#bl)"><ellipse cx="276" cy="85" rx="3.5" ry="2.5" fill="#8a8264"/><ellipse cx="300" cy="122" rx="6" ry="3" fill="#9a8f70"/></g><path fill="none" stroke="#b9ab88" stroke-width="2.5" stroke-linejoin="round" d="M126.0,119.0 L129.0,113.0 L134.3,114.2 L141.0,118.5 L144.0,121.0 L148.3,124.9 L165.0,128.0 L182.3,131.3 L183.4,131.3 L184.4,139.8 L190.8,148.3 L199.3,154.7 L207.9,161.5 L206.5,168.0 L204.5,174.0 L201.0,180.0 L199.5,187.5 L196.0,196.0 L194.5,202.0 L193.5,209.0 L165.5,209.0 L165.5,197.0 L168.0,188.0 L169.8,180.0 L168.5,175.0 L165.3,170.5 L159.0,164.3 L152.5,156.8 L144.0,146.2 L138.0,140.0 L133.4,133.4 L129.0,126.0 Z"/><path fill="#2c4745" d="M126.0,119.0 L129.0,113.0 L134.3,114.2 L141.0,118.5 L144.0,121.0 L148.3,124.9 L165.0,128.0 L182.3,131.3 L183.4,131.3 L184.4,139.8 L190.8,148.3 L199.3,154.7 L207.9,161.5 L206.5,168.0 L204.5,174.0 L201.0,180.0 L199.5,187.5 L196.0,196.0 L194.5,202.0 L193.5,209.0 L165.5,209.0 L165.5,197.0 L168.0,188.0 L169.8,180.0 L168.5,175.0 L165.3,170.5 L159.0,164.3 L152.5,156.8 L144.0,146.2 L138.0,140.0 L133.4,133.4 L129.0,126.0 Z"/><path fill="#b8aa88" d="M140.8,118.5 L145,119 L150,127 L152.5,135.5 L150,137 L146,131 L142,123 Z"/><path stroke="#bdb6a3" stroke-width="1.6" fill="none" d="M148.3,125.5 L182.3,131.5"/><path fill="#e0ded6" filter="url(#bl)" d="M175,132 L182.5,131.5 L183.5,138.7 L177,139 Z"/><path stroke="#bfb59a" stroke-width="3" fill="none" d="M88.7,67.5 L100,71 L123.4,77.5 L146.7,84 L180,92 L203.4,97 L226.7,102.2 L245.4,106.3"/><path stroke="#a9a28a" stroke-width="3" fill="none" d="M86,86 L112,90 L130,97 L150,102.5 L170,108 L200,115 L230,121 L260,125"/><path stroke="#b3ab92" stroke-width="2.5" fill="none" d="M95,98 L120,106 L145,113 L170,118.5 L182,121"/><path stroke="#cfc8b0" stroke-width="7.5" fill="none" d="M206,159 L262,127.5"/><path stroke="#bdb59d" stroke-width="2.5" fill="none" d="M206,159 L262,127.5"/><path fill="#e8e6e0" filter="url(#bl)" d="M203,157 L208,156 L209,162 L204,163 Z"/><g fill="none" stroke="#c4b896" stroke-width="1.2" opacity="0.8"><path d="M44,112 C40,125 40,145 42,158 L64,160 L78,160"/><path d="M44,112 C60,108 80,106 95,104"/><path d="M24,176 C50,172 80,170 110,168"/><path d="M24,196 C45,190 60,188 80,188"/><path d="M299,207.4 L331,163.7"/><path d="M189,140 C195,133 210,133 213,142 C215,152 205,157 196,152 C190,149 188,145 189,140"/><path d="M250,148 C258,150 262,160 261.6,171.6 C258,176 252,176 249.7,175.6"/><path d="M250,148 C245,152 240,160 236,168"/><path d="M215,178 C230,172 245,170 262,172"/></g><path fill="none" stroke="#bdb192" stroke-width="2.4" d="M261.6,134 L307,147.8 L341,159.7"/><g fill="#d4ccb4" opacity="0.75" filter="url(#bl)"><path d="M281,146 L283.5,145.5 L284,149 L281.5,149.5 Z"/><path d="M291,160 L295,159 L295.5,162 L291.5,163 Z"/><path d="M300.5,149 L303,149.5 L302.5,154 L300,153.5 Z"/><path d="M287,170 L291,169 L291.5,172 L287.5,173 Z"/><path d="M294.5,176 L297,175.5 L297,179 L294.5,179 Z"/><path d="M262,188 L265,187.5 L265,189.5 L262,190 Z"/></g><rect x="48.0" y="146.0" width="3" height="1.3" fill="#d8d2c0"/><rect x="52.2" y="146.0" width="3" height="1.3" fill="#d8d2c0"/><rect x="56.4" y="146.0" width="3" height="1.3" fill="#d8d2c0"/><rect x="60.6" y="146.0" width="3" height="1.3" fill="#d8d2c0"/><rect x="64.8" y="146.0" width="3" height="1.3" fill="#d8d2c0"/><rect x="48.8" y="148.8" width="3" height="1.3" fill="#d8d2c0"/><rect x="53.0" y="148.8" width="3" height="1.3" fill="#d8d2c0"/><rect x="57.2" y="148.8" width="3" height="1.3" fill="#d8d2c0"/><rect x="61.4" y="148.8" width="3" height="1.3" fill="#d8d2c0"/><rect x="65.6" y="148.8" width="3" height="1.3" fill="#d8d2c0"/><rect x="49.6" y="151.6" width="3" height="1.3" fill="#d8d2c0"/><rect x="53.8" y="151.6" width="3" height="1.3" fill="#d8d2c0"/><rect x="58.0" y="151.6" width="3" height="1.3" fill="#d8d2c0"/><rect x="62.2" y="151.6" width="3" height="1.3" fill="#d8d2c0"/><rect x="66.4" y="151.6" width="3" height="1.3" fill="#d8d2c0"/><rect x="50.4" y="154.4" width="3" height="1.3" fill="#d8d2c0"/><rect x="54.6" y="154.4" width="3" height="1.3" fill="#d8d2c0"/><rect x="58.8" y="154.4" width="3" height="1.3" fill="#d8d2c0"/><rect x="63.0" y="154.4" width="3" height="1.3" fill="#d8d2c0"/><rect x="67.2" y="154.4" width="3" height="1.3" fill="#d8d2c0"/><g filter="url(#bl)"><path fill="#bcb69e" d="M108,125 L128,137 L140,152 L136,160 L120,151 L101,140 Z"/><path fill="#c9c2ab" d="M120,179 L138,180 L138,190 L120,189 Z"/><path fill="#c2b89c" d="M111,170 L123,170 L123,181 L111,181 Z"/><path fill="#c0b9a2" d="M88,99 L103,96.5 L109,101 L100,111 L90,110 Z"/><path fill="#cfc8b2" d="M75.9,128 L79.4,128 L79.4,133.3 L75.9,133.3 Z"/><path fill="#c8c0a6" d="M50,105 L60,106 L60,111 L50,110 Z"/></g><g filter="url(#bl)"><ellipse cx="70" cy="87.5" rx="5" ry="4" fill="#a39476"/><path fill="#bdb6a0" d="M95.5,108.7 L110.4,110 L110.4,122 L95.5,120 Z"/><path fill="none" stroke="#c9bf9f" stroke-width="1.3" d="M78,64 C80,75 84,90 86,106"/></g><g fill="#4d4c44"><ellipse cx="99.1" cy="105.8" rx="1.3" ry="2.0" transform="rotate(40 99.1 105.8)"/><ellipse cx="101.4" cy="103.9" rx="1.3" ry="2.0" transform="rotate(40 101.4 103.9)"/><ellipse cx="103.3" cy="102" rx="1.3" ry="2.0" transform="rotate(40 103.3 102)"/><ellipse cx="105.2" cy="100.1" rx="1.3" ry="2.0" transform="rotate(40 105.2 100.1)"/></g><path d="M104,115 L114.5,104" stroke="#6b675a" stroke-width="0.9" fill="none"/><circle cx="24" cy="4" r="7" fill="url(#corner)"/></g></g></g>
</defs>
<use href="#base"/>
<use href="#base" transform="translate(343,0)"/>
<use href="#base" transform="translate(1,219)"/>
<use href="#base" transform="translate(344,219)"/>
<g filter="url(#sb)"><g clip-path="url(#cTL)"><path fill="#6eeb64" d="M42.0,3.2 L48.0,2.9 L55.0,3.3 L55.3,5.5 L53.0,6.9 L46.0,7.0 L42.2,6.0 Z"/><path fill="#6ee878" d="M25.5,15.3 L28.1,14.5 L31.6,15.3 L36.0,17.1 L42.1,18.0 L48.3,18.8 L53.5,20.6 L58.8,23.6 L63.2,26.3 L62.3,28.0 L57.0,29.8 L51.8,29.8 L44.8,28.0 L39.5,26.3 L35.1,23.6 L32.5,21.0 L29.0,19.7 L25.5,18.4 L24.5,17.0 Z"/><path fill="#c8f028" d="M23.3,35.0 L27.0,35.2 L29.0,37.0 L28.5,40.5 L25.0,41.6 L23.3,41.0 Z"/><path fill="#6ee878" d="M45.6,39.8 L47.4,39.8 L47.4,41.6 L45.6,41.6 Z"/><path fill="#5ae496" d="M23.8,43.8 L30.8,42.9 L39.5,42.4 L48.3,43.3 L53.5,46.4 L54.4,49.9 L50.9,51.2 L43.9,51.2 L35.1,50.3 L27.3,50.8 L23.8,50.3 Z"/><path fill="#64e682" d="M23.8,52.5 L35.1,53.0 L44.8,53.4 L50.0,52.5 L55.7,53.4 L56.2,57.8 L54.4,61.3 L48.3,63.0 L39.5,64.8 L30.8,63.0 L23.8,60.4 Z"/><path fill="#bcee32" d="M23.8,67.4 L30.8,65.7 L46.5,64.8 L57.0,65.7 L61.4,68.3 L62.3,71.8 L64.0,74.6 L61.5,77.0 L59.7,78.1 L56.0,76.5 L51.8,74.6 L46.5,76.4 L35.1,74.6 L23.8,73.8 Z"/><path fill="#b4ec3c" d="M66.2,72.4 L70.6,72.6 L71.0,75.5 L70.5,79.0 L68.9,79.0 L68.5,76.4 L66.2,75.5 Z"/><path fill="#78e86e" d="M23.8,84.7 L30.8,84.3 L39.5,86.0 L48.3,88.2 L57.0,89.5 L63.2,90.4 L68.4,92.2 L71.0,93.9 L69.7,95.7 L60.5,95.7 L57.0,98.3 L50.9,100.9 L44.8,101.8 L41.3,103.5 L30.8,101.8 L23.8,100.0 Z"/><path fill="#78e86e" d="M60.8,105.0 L63.4,105.0 L63.4,107.6 L60.8,107.6 Z"/><path fill="#3cdcc8" d="M68.0,129.8 L75.5,130.0 L83.8,130.2 L83.5,134.6 L76.0,135.0 L68.0,135.0 Z"/><path fill="#78e86e" d="M88.2,132.4 L91.2,132.4 L91.2,135.0 L88.2,135.0 Z"/><path fill="#78e86e" d="M85.8,152.0 L88.2,152.0 L88.2,154.0 L85.8,154.0 Z"/><path fill="#b4ec3c" d="M126.7,146.0 L129.2,146.0 L129.2,147.6 L126.7,147.6 Z"/><path fill="url(#gTL)" d="M74.1,73.1 L79.3,71.9 L87.5,71.9 L95.7,73.7 L105.0,76.0 L114.4,77.2 L122.6,77.8 L128.4,79.5 L135.4,82.4 L145.0,84.5 L156.7,86.8 L168.4,91.2 L180.0,93.8 L191.7,97.3 L203.4,100.8 L215.0,103.2 L226.7,104.9 L238.4,106.7 L245.4,107.8 L250.0,109.6 L255.9,113.7 L261.7,115.4 L271.0,116.0 L276.9,118.4 L281.6,121.3 L285.0,123.6 L283.9,125.4 L278.0,124.8 L271.0,124.2 L261.7,123.6 L253.5,122.5 L250.0,123.0 L241.9,124.0 L232.5,124.0 L225.0,123.5 L215.0,121.5 L205.0,118.5 L195.0,116.0 L185.0,114.0 L175.0,111.0 L165.0,107.5 L155.0,105.0 L145.0,103.0 L135.4,98.5 L126.0,94.5 L116.7,90.0 L105.0,87.0 L99.2,84.8 L93.4,82.0 L81.7,77.5 L74.1,74.8 Z"/><path fill="url(#gTL2)" d="M87.5,86.5 L93.4,87.5 L100.4,89.3 L105.0,90.8 L115.0,93.2 L125.0,97.0 L131.9,100.3 L140.0,103.8 L147.0,106.3 L150.0,107.3 L150.5,112.0 L147.0,112.2 L135.9,110.0 L124.2,106.5 L114.0,102.5 L107.4,100.5 L100.8,97.5 L95.0,96.0 L88.7,93.0 Z"/><path fill="#f8c800" d="M145.0,114.3 L149.0,113.8 L152.0,114.5 L152.0,118.0 L148.0,118.5 L145.0,117.8 Z"/><path fill="#dcec20" d="M107.0,114.0 L115.0,110.0 L125.0,110.0 L133.0,112.0 L136.0,116.0 L133.0,120.0 L125.0,123.0 L113.0,124.0 L107.0,121.0 Z"/><path fill="#f89600" d="M169.0,119.5 L172.4,119.5 L172.4,122.4 L169.0,122.4 Z"/><path fill="#f0ec08" d="M181.2,121.8 L184.7,121.8 L184.7,124.1 L181.2,124.1 Z"/><path fill="#f0ec08" d="M167.2,124.7 L170.7,124.7 L170.7,128.0 L167.2,128.0 Z"/><path fill="#f4e808" d="M183.5,122.5 L190.0,122.0 L198.0,123.0 L205.7,124.0 L212.0,126.0 L217.0,129.5 L216.0,134.5 L210.0,135.5 L203.0,132.0 L196.0,129.5 L188.0,128.0 L184.0,126.0 Z"/><path fill="#a0e650" d="M262.3,126.0 L267.6,126.0 L275.7,127.7 L280.4,130.0 L285.0,131.8 L289.7,134.7 L293.2,137.0 L290.9,138.8 L285.0,140.0 L280.4,141.7 L275.7,141.1 L271.0,139.4 L267.6,134.7 L264.0,130.0 Z"/><path fill="#b4ec3c" d="M310.0,149.9 L315.7,149.9 L321.8,150.8 L327.9,151.6 L332.3,153.4 L337.6,156.5 L341.0,158.2 L341.0,160.8 L335.8,160.0 L330.5,158.2 L325.3,156.0 L320.0,154.7 L313.9,153.4 L310.4,152.1 Z"/><g filter="url(#pb)"><ellipse cx="29" cy="16.5" rx="4" ry="2" fill="#50e0a8"/><ellipse cx="49.5" cy="22" rx="4" ry="2.2" fill="#c4f030"/><ellipse cx="60" cy="27.5" rx="3" ry="1.8" fill="#50e0a8"/><ellipse cx="38" cy="22.6" rx="3.5" ry="1.0" fill="#ad9f7e"/><ellipse cx="27" cy="45.5" rx="4" ry="2" fill="#b4ec3c"/><ellipse cx="51" cy="47" rx="3" ry="2" fill="#b4ec3c"/><ellipse cx="52.5" cy="54.5" rx="2.5" ry="1.5" fill="#48dcd0"/><ellipse cx="46" cy="59" rx="6" ry="1.5" fill="#b4ec3c" transform="rotate(-25 46 59)"/><ellipse cx="41" cy="68" rx="7" ry="2.5" fill="#64e28c"/><ellipse cx="59.5" cy="75" rx="2.5" ry="2.5" fill="#f0ec08"/><ellipse cx="36" cy="86.5" rx="11" ry="2" fill="#54e0a0"/><ellipse cx="66.5" cy="93" rx="3" ry="1.5" fill="#48dcc8"/><ellipse cx="29" cy="95.7" rx="3" ry="1.8" fill="#f0ec08"/><ellipse cx="48" cy="97" rx="8" ry="2.5" fill="#c4ee30"/><ellipse cx="58" cy="93" rx="5" ry="2" fill="#b0ec40"/><ellipse cx="80" cy="132" rx="3" ry="2" fill="#f0ec08"/><ellipse cx="71" cy="133.5" rx="2" ry="1" fill="#f0c000"/><ellipse cx="266" cy="128.5" rx="5" ry="2.5" fill="#50dcb0" transform="rotate(20 266 128.5)"/><ellipse cx="285" cy="137" rx="6" ry="2.5" fill="#ccea28" transform="rotate(20 285 137)"/><ellipse cx="283.3" cy="132" rx="1.5" ry="1.3" fill="#f08000"/><ellipse cx="324" cy="153.5" rx="4" ry="2" fill="#78e678" transform="rotate(10 324 153.5)"/><ellipse cx="332" cy="156" rx="2.5" ry="1.6" fill="#f05000" transform="rotate(20 332 156)"/><ellipse cx="339" cy="159" rx="2" ry="1.2" fill="#f0ec08"/><ellipse cx="210" cy="128.5" rx="4" ry="2.5" fill="#f8b400" transform="rotate(20 210 128.5)"/><ellipse cx="215" cy="132" rx="2" ry="2" fill="#c8ec30"/><ellipse cx="108" cy="117" rx="2" ry="4" fill="#90e070"/><ellipse cx="125" cy="116" rx="7" ry="4" fill="#f4ec00"/><ellipse cx="98" cy="75" rx="5" ry="1.5" fill="#5ae0a0" transform="rotate(14 98 75)"/><ellipse cx="115" cy="78.5" rx="9" ry="1.6" fill="#c8ea30" transform="rotate(14 115 78.5)"/><ellipse cx="133" cy="84" rx="9" ry="2" fill="#c8ea30" transform="rotate(14 133 84)"/><ellipse cx="136" cy="91" rx="12" ry="4" fill="#f89000" transform="rotate(20 136 91)"/><ellipse cx="160" cy="97" rx="14" ry="5" fill="#f05000" transform="rotate(15 160 97)"/><ellipse cx="176" cy="99.5" rx="14" ry="4.5" fill="#e41800" transform="rotate(14 176 99.5)"/><ellipse cx="160" cy="104" rx="12" ry="2" fill="#f47000" transform="rotate(15 160 104)"/><ellipse cx="198" cy="104" rx="10" ry="4" fill="#f05000" transform="rotate(14 198 104)"/><ellipse cx="212" cy="118" rx="30" ry="3" fill="#f4ec00" transform="rotate(14 212 118)"/><ellipse cx="190" cy="112" rx="8" ry="2" fill="#f8c000" transform="rotate(14 190 112)"/><ellipse cx="218" cy="106.5" rx="7" ry="2.5" fill="#c8ea30" transform="rotate(14 218 106.5)"/><ellipse cx="226" cy="121" rx="5" ry="2" fill="#90e070" transform="rotate(14 226 121)"/><ellipse cx="218" cy="111" rx="6" ry="3" fill="#f8a000" transform="rotate(14 218 111)"/><ellipse cx="172" cy="93" rx="4" ry="1.3" fill="#9ce864" transform="rotate(10 172 93)"/><ellipse cx="265" cy="118" rx="6" ry="2" fill="#e8ea18"/><ellipse cx="147" cy="110" rx="2" ry="1.5" fill="#f08000"/></g></g></g>
<g transform="translate(343,0)"><g filter="url(#sb)"><g clip-path="url(#cTR)"><path fill="#f4e808" d="M42.0,3.2 L48.0,2.9 L55.0,3.3 L55.3,5.5 L53.0,6.9 L46.0,7.0 L42.2,6.0 Z"/><path fill="#f8c800" d="M25.5,15.3 L28.1,14.5 L31.6,15.3 L36.0,17.1 L42.1,18.0 L48.3,18.8 L53.5,20.6 L58.8,23.6 L63.2,26.3 L62.3,28.0 L57.0,29.8 L51.8,29.8 L44.8,28.0 L39.5,26.3 L35.1,23.6 L32.5,21.0 L29.0,19.7 L25.5,18.4 L24.5,17.0 Z"/><path fill="#f07000" d="M23.3,35.0 L27.0,35.2 L29.0,37.0 L28.5,40.5 L25.0,41.6 L23.3,41.0 Z"/><path fill="#f4e808" d="M45.6,39.8 L47.4,39.8 L47.4,41.6 L45.6,41.6 Z"/><path fill="#f89a00" d="M23.8,43.8 L30.8,42.9 L39.5,42.4 L48.3,43.3 L53.5,46.4 L54.4,49.9 L50.9,51.2 L43.9,51.2 L35.1,50.3 L27.3,50.8 L23.8,50.3 Z"/><path fill="#f8b000" d="M23.8,52.5 L35.1,53.0 L44.8,53.4 L50.0,52.5 L55.7,53.4 L56.2,57.8 L54.4,61.3 L48.3,63.0 L39.5,64.8 L30.8,63.0 L23.8,60.4 Z"/><path fill="#f4e808" d="M23.8,67.4 L30.8,65.7 L46.5,64.8 L57.0,65.7 L61.4,68.3 L62.3,71.8 L64.0,74.6 L61.5,77.0 L59.7,78.1 L56.0,76.5 L51.8,74.6 L46.5,76.4 L35.1,74.6 L23.8,73.8 Z"/><path fill="#f89000" d="M66.2,72.4 L70.6,72.6 L71.0,75.5 L70.5,79.0 L68.9,79.0 L68.5,76.4 L66.2,75.5 Z"/><path fill="#f8c000" d="M23.8,84.7 L30.8,84.3 L39.5,86.0 L48.3,88.2 L57.0,89.5 L63.2,90.4 L68.4,92.2 L71.0,93.9 L69.7,95.7 L60.5,95.7 L57.0,98.3 L50.9,100.9 L44.8,101.8 L41.3,103.5 L30.8,101.8 L23.8,100.0 Z"/><path fill="#78e678" d="M60.8,105.0 L63.4,105.0 L63.4,107.6 L60.8,107.6 Z"/><path fill="#40d8d8" d="M68.0,129.8 L75.5,130.0 L83.8,130.2 L83.5,134.6 L76.0,135.0 L68.0,135.0 Z"/><path fill="#78e678" d="M88.2,132.4 L91.2,132.4 L91.2,135.0 L88.2,135.0 Z"/><path fill="#2040e0" d="M85.8,152.0 L88.2,152.0 L88.2,154.0 L85.8,154.0 Z"/><path fill="#1030d0" d="M126.7,146.0 L129.2,146.0 L129.2,147.6 L126.7,147.6 Z"/><path fill="url(#gTR)" d="M74.1,73.1 L79.3,71.9 L87.5,71.9 L95.7,73.7 L105.0,76.0 L114.4,77.2 L122.6,77.8 L128.4,79.5 L135.4,82.4 L145.0,84.5 L156.7,86.8 L168.4,91.2 L180.0,93.8 L191.7,97.3 L203.4,100.8 L215.0,103.2 L226.7,104.9 L238.4,106.7 L245.4,107.8 L250.0,109.6 L255.9,113.7 L261.7,115.4 L271.0,116.0 L276.9,118.4 L281.6,121.3 L285.0,123.6 L283.9,125.4 L278.0,124.8 L271.0,124.2 L261.7,123.6 L253.5,122.5 L250.0,123.0 L241.9,124.0 L232.5,124.0 L225.0,123.5 L215.0,121.5 L205.0,118.5 L195.0,116.0 L185.0,114.0 L175.0,111.0 L165.0,107.5 L155.0,105.0 L145.0,103.0 L135.4,98.5 L126.0,94.5 L116.7,90.0 L105.0,87.0 L99.2,84.8 L93.4,82.0 L81.7,77.5 L74.1,74.8 Z"/><path fill="#30c0f0" d="M87.5,86.5 L93.4,87.5 L100.4,89.3 L105.0,90.8 L115.0,93.2 L125.0,97.0 L131.9,100.3 L140.0,103.8 L147.0,106.3 L150.0,107.3 L150.5,112.0 L147.0,112.2 L135.9,110.0 L124.2,106.5 L114.0,102.5 L107.4,100.5 L100.8,97.5 L95.0,96.0 L88.7,93.0 Z"/><path fill="#2060f0" d="M145.0,114.3 L149.0,113.8 L152.0,114.5 L152.0,118.0 L148.0,118.5 L145.0,117.8 Z"/><path fill="#40c0f0" d="M107.0,114.0 L115.0,110.0 L125.0,110.0 L133.0,112.0 L136.0,116.0 L133.0,120.0 L125.0,123.0 L113.0,124.0 L107.0,121.0 Z"/><path fill="#40d0e0" d="M169.0,119.5 L172.4,119.5 L172.4,122.4 L169.0,122.4 Z"/><path fill="#f0ec08" d="M181.2,121.8 L184.7,121.8 L184.7,124.1 L181.2,124.1 Z"/><path fill="#78e678" d="M167.2,124.7 L170.7,124.7 L170.7,128.0 L167.2,128.0 Z"/><path fill="#48d8c8" d="M183.5,122.5 L190.0,122.0 L198.0,123.0 L205.7,124.0 L212.0,126.0 L217.0,129.5 L216.0,134.5 L210.0,135.5 L203.0,132.0 L196.0,129.5 L188.0,128.0 L184.0,126.0 Z"/><path fill="#f07000" d="M262.3,126.0 L267.6,126.0 L275.7,127.7 L280.4,130.0 L285.0,131.8 L289.7,134.7 L293.2,137.0 L290.9,138.8 L285.0,140.0 L280.4,141.7 L275.7,141.1 L271.0,139.4 L267.6,134.7 L264.0,130.0 Z"/><path fill="#f0c000" d="M310.0,149.9 L315.7,149.9 L321.8,150.8 L327.9,151.6 L332.3,153.4 L337.6,156.5 L341.0,158.2 L341.0,160.8 L335.8,160.0 L330.5,158.2 L325.3,156.0 L320.0,154.7 L313.9,153.4 L310.4,152.1 Z"/><g filter="url(#pb)"><ellipse cx="44" cy="5" rx="2.5" ry="2" fill="#b4ec3c"/><ellipse cx="29" cy="17" rx="5" ry="2.5" fill="#ec3c00"/><ellipse cx="40" cy="24" rx="7" ry="2" fill="#a00000" transform="rotate(15 40 24)"/><ellipse cx="51" cy="21" rx="4" ry="2" fill="#5ae0a0" transform="rotate(15 51 21)"/><ellipse cx="56" cy="25" rx="4" ry="2" fill="#f4e808" transform="rotate(20 56 25)"/><ellipse cx="61" cy="27.5" rx="2.5" ry="1.5" fill="#78e678"/><ellipse cx="47" cy="28" rx="5" ry="1.5" fill="#f89600" transform="rotate(10 47 28)"/><ellipse cx="25" cy="40" rx="2" ry="1.5" fill="#50e0a8"/><ellipse cx="26" cy="45.5" rx="4" ry="2" fill="#5ae0a0"/><ellipse cx="25" cy="49.5" rx="2" ry="1.5" fill="#a00000"/><ellipse cx="41" cy="50" rx="4" ry="2" fill="#e82800"/><ellipse cx="33" cy="46" rx="4" ry="2" fill="#f4e000"/><ellipse cx="48" cy="45" rx="4" ry="2" fill="#f4e000"/><ellipse cx="35" cy="49" rx="4" ry="1.5" fill="#f06000"/><ellipse cx="25" cy="54" rx="3" ry="1.5" fill="#40d8d8"/><ellipse cx="26" cy="58" rx="4" ry="2" fill="#e82800"/><ellipse cx="44" cy="54" rx="5" ry="1.6" fill="#50d0e0"/><ellipse cx="46" cy="58" rx="4" ry="1.5" fill="#78e0a0"/><ellipse cx="46" cy="61.8" rx="4" ry="1.6" fill="#e42000"/><ellipse cx="38" cy="64.5" rx="3" ry="1.5" fill="#a00000"/><ellipse cx="34" cy="61" rx="3" ry="1.5" fill="#f4e000"/><ellipse cx="52" cy="57" rx="3" ry="2" fill="#f4e000"/><ellipse cx="26" cy="67" rx="3" ry="2" fill="#40d0e0"/><ellipse cx="58.5" cy="67" rx="3" ry="1.6" fill="#3080e8"/><ellipse cx="56" cy="71.5" rx="3" ry="1.5" fill="#f05000"/><ellipse cx="60" cy="75.5" rx="3" ry="2.5" fill="#40d8d8"/><ellipse cx="48" cy="74" rx="4" ry="1.5" fill="#f89600"/><ellipse cx="40" cy="69" rx="5" ry="2" fill="#f8c000"/><ellipse cx="30" cy="72" rx="4" ry="1.5" fill="#f89600"/><ellipse cx="69.5" cy="77" rx="1.5" ry="1.5" fill="#40d8d8"/><ellipse cx="68" cy="73" rx="2" ry="1" fill="#78e678"/><ellipse cx="30" cy="86" rx="7" ry="1.8" fill="#f89000"/><ellipse cx="45" cy="90" rx="6" ry="1.3" fill="#e42000" transform="rotate(10 45 90)"/><ellipse cx="35" cy="94" rx="8" ry="2" fill="#48d8d8"/><ellipse cx="48" cy="98" rx="7" ry="2" fill="#e8ec10"/><ellipse cx="64" cy="93.5" rx="3" ry="1.5" fill="#e01800"/><ellipse cx="31" cy="99" rx="2" ry="1.5" fill="#f05000"/><ellipse cx="69" cy="94" rx="1.5" ry="1.2" fill="#48d8d8"/><ellipse cx="55" cy="96" rx="4" ry="2" fill="#c0ec30"/><ellipse cx="72" cy="131" rx="2" ry="1.5" fill="#f4e808"/><ellipse cx="74" cy="133" rx="2" ry="1" fill="#e04000"/><ellipse cx="81" cy="132" rx="2" ry="2" fill="#2060f0"/><ellipse cx="70" cy="132" rx="1.5" ry="1.5" fill="#e02000"/><ellipse cx="77" cy="131" rx="1.5" ry="1.5" fill="#f0d000"/><ellipse cx="79" cy="133" rx="1.2" ry="1.2" fill="#c00000"/><ellipse cx="128" cy="88.5" rx="6" ry="2.2" fill="#1838d0" transform="rotate(14 128 88.5)"/><ellipse cx="141" cy="86" rx="5" ry="2" fill="#1838d0" transform="rotate(14 141 86)"/><ellipse cx="142" cy="96" rx="8" ry="2" fill="#1030c8" transform="rotate(14 142 96)"/><ellipse cx="160" cy="96" rx="5" ry="1.8" fill="#2060e8" transform="rotate(14 160 96)"/><ellipse cx="95" cy="80" rx="6" ry="1.5" fill="#40d0e8" transform="rotate(14 95 80)"/><ellipse cx="155" cy="92" rx="2" ry="1.5" fill="#f08000"/><ellipse cx="192" cy="112" rx="14" ry="3" fill="#60d8b0" transform="rotate(14 192 112)"/><ellipse cx="194" cy="100" rx="10" ry="2.5" fill="#f05000" transform="rotate(14 194 100)"/><ellipse cx="181" cy="96" rx="5" ry="2" fill="#f8b000" transform="rotate(14 181 96)"/><ellipse cx="206" cy="116" rx="5" ry="2" fill="#e8e020" transform="rotate(14 206 116)"/><ellipse cx="90" cy="74" rx="6" ry="1.5" fill="#f4e000" transform="rotate(14 90 74)"/><ellipse cx="86" cy="75" rx="2" ry="1" fill="#f07000"/><ellipse cx="230" cy="114" rx="10" ry="3" fill="#a00000" transform="rotate(14 230 114)"/><ellipse cx="245" cy="118" rx="5" ry="2" fill="#e04000" transform="rotate(14 245 118)"/><ellipse cx="268" cy="122" rx="6" ry="2" fill="#f8c000" transform="rotate(14 268 122)"/><ellipse cx="278" cy="123.5" rx="4" ry="1.3" fill="#a01000" transform="rotate(14 278 123.5)"/><ellipse cx="95" cy="89" rx="4" ry="1.5" fill="#40d8d8"/><ellipse cx="110" cy="96" rx="6" ry="2" fill="#2080f0" transform="rotate(20 110 96)"/><ellipse cx="125" cy="102" rx="5" ry="2" fill="#1040e0" transform="rotate(20 125 102)"/><ellipse cx="140" cy="107" rx="5" ry="1.5" fill="#0030d0" transform="rotate(15 140 107)"/><ellipse cx="147" cy="110" rx="3" ry="1.5" fill="#30a0f0"/><ellipse cx="113" cy="111.5" rx="6" ry="1.8" fill="#1030d0"/><ellipse cx="127" cy="117" rx="5" ry="3" fill="#40c8f0"/><ellipse cx="120" cy="121" rx="4" ry="2" fill="#2080f0"/><ellipse cx="108" cy="118" rx="2" ry="2" fill="#2070e8"/><ellipse cx="188" cy="124" rx="4" ry="1.5" fill="#c8ec30"/><ellipse cx="201" cy="125" rx="2" ry="1.5" fill="#e84000"/><ellipse cx="205" cy="128" rx="5" ry="2" fill="#90e070"/><ellipse cx="214" cy="131" rx="3" ry="2" fill="#c8ec30"/><ellipse cx="268" cy="128" rx="5" ry="2.5" fill="#c00000" transform="rotate(20 268 128)"/><ellipse cx="276" cy="134" rx="6" ry="2.5" fill="#f4e808" transform="rotate(20 276 134)"/><ellipse cx="284" cy="137" rx="4" ry="2" fill="#f8c000"/><ellipse cx="288" cy="135" rx="3" ry="1.5" fill="#2040e0" transform="rotate(20 288 135)"/><ellipse cx="272" cy="139" rx="3" ry="1.5" fill="#f89000"/><ellipse cx="312" cy="151.5" rx="3" ry="1.5" fill="#f0e010"/><ellipse cx="320" cy="152.5" rx="3" ry="1.5" fill="#f89000"/><ellipse cx="327" cy="154.5" rx="3" ry="1.5" fill="#f4e808"/><ellipse cx="333" cy="156" rx="2.5" ry="1.5" fill="#2050f0"/><ellipse cx="338" cy="158.5" rx="3" ry="1.5" fill="#e02000"/></g></g></g></g>
<g transform="translate(1,219)"><g filter="url(#sb)"><g clip-path="url(#cBL)"><path fill="#5ae0a0" d="M41.7,3.1 L48.0,2.9 L54.0,3.1 L54.0,6.6 L48.0,6.8 L41.7,6.6 Z"/><path fill="#5ae0a0" d="M25.1,16.2 L29.0,14.9 L35.1,16.6 L42.1,18.4 L48.3,19.7 L51.8,19.7 L54.4,21.0 L58.8,23.6 L63.2,26.3 L59.7,28.0 L53.5,29.3 L48.3,28.9 L42.1,27.6 L36.9,25.8 L34.7,23.6 L36.0,22.5 L42.1,21.5 L35.1,20.6 L29.0,19.3 L25.5,18.4 Z"/><path fill="#60e0b0" d="M23.8,35.0 L27.3,35.9 L27.3,42.0 L23.8,41.0 Z"/><path fill="#6ee890" d="M23.8,44.6 L32.5,42.9 L42.1,42.4 L50.0,43.8 L52.7,47.3 L51.8,50.8 L43.9,51.6 L35.1,52.1 L27.3,51.2 L23.8,50.3 Z"/><path fill="#50dcc0" d="M23.8,53.4 L35.1,53.0 L43.0,52.5 L51.8,53.4 L55.3,56.0 L53.5,61.3 L48.3,63.0 L40.0,62.0 L33.0,61.0 L28.0,60.5 L23.8,60.0 Z"/><path fill="#48d8d0" d="M23.8,65.5 L35.0,64.8 L50.0,65.0 L58.0,66.0 L60.5,69.0 L63.2,72.5 L63.2,77.8 L54.4,77.8 L51.8,75.1 L46.5,76.0 L35.1,74.3 L23.8,73.4 Z"/><path fill="#78e678" d="M66.7,72.5 L70.2,72.5 L70.2,75.6 L66.7,75.6 Z"/><path fill="#40d4e0" d="M23.8,84.8 L30.8,84.8 L39.5,86.5 L48.3,89.1 L57.0,89.6 L64.9,90.0 L65.8,94.4 L59.7,95.3 L59.7,98.8 L55.3,100.5 L48.3,103.2 L43.9,103.6 L39.5,101.4 L30.8,101.4 L23.8,99.7 Z"/><path fill="#78e678" d="M68.4,93.1 L70.6,93.1 L70.6,95.3 L68.4,95.3 Z"/><path fill="url(#gBL)" d="M74.1,73.1 L79.3,71.9 L87.5,71.9 L95.7,73.7 L105.0,76.0 L114.4,77.2 L122.6,77.8 L128.4,79.5 L135.4,82.4 L145.0,84.5 L156.7,86.8 L168.4,91.2 L180.0,93.8 L191.7,97.3 L203.4,100.8 L215.0,103.2 L226.7,104.9 L238.4,106.7 L245.4,107.8 L250.0,109.6 L255.9,113.7 L261.7,115.4 L271.0,116.0 L276.9,118.4 L281.6,121.3 L285.0,123.6 L283.9,125.4 L278.0,124.8 L271.0,124.2 L261.7,123.6 L253.5,122.5 L250.0,123.0 L241.9,124.0 L232.5,124.0 L225.0,123.5 L215.0,121.5 L205.0,118.5 L195.0,116.0 L185.0,114.0 L175.0,111.0 L165.0,107.5 L155.0,105.0 L145.0,103.0 L135.4,98.5 L126.0,94.5 L116.7,90.0 L105.0,87.0 L99.2,84.8 L93.4,82.0 L81.7,77.5 L74.1,74.8 Z"/><path fill="url(#gBL2)" d="M87.5,86.5 L93.4,87.5 L100.4,89.3 L105.0,90.8 L115.0,93.2 L125.0,97.0 L131.9,100.3 L140.0,103.8 L147.0,106.3 L150.0,107.3 L150.5,112.0 L147.0,112.2 L135.9,110.0 L124.2,106.5 L114.0,102.5 L107.4,100.5 L100.8,97.5 L95.0,96.0 L88.7,93.0 Z"/><path fill="#f8a000" d="M145.0,114.3 L149.0,113.8 L152.0,114.5 L152.0,118.0 L148.0,118.5 L145.0,117.8 Z"/><path fill="#a8e458" d="M106.9,113.0 L115.0,111.0 L125.0,111.0 L133.0,113.0 L135.0,117.0 L131.0,121.0 L122.0,122.7 L112.0,122.0 L107.0,119.0 Z"/><path fill="#f0e010" d="M183.5,123.5 L192.0,123.0 L200.0,124.0 L205.7,125.0 L213.0,128.0 L213.7,133.0 L205.0,133.6 L195.0,131.0 L186.0,128.0 Z"/><path fill="#f8c000" d="M261.7,127.1 L267.6,126.0 L273.4,127.7 L278.0,130.0 L283.9,131.2 L289.7,134.7 L292.1,136.5 L287.4,138.2 L282.7,140.5 L278.0,141.7 L272.2,137.6 L267.6,134.7 L264.0,130.0 Z"/><path fill="#60e0b0" d="M309.0,148.5 L316.0,149.0 L324.0,150.5 L331.0,152.5 L339.0,156.5 L339.0,159.3 L331.0,157.5 L322.0,155.0 L314.0,152.5 L309.0,151.0 Z"/><path fill="#78e678" d="M68.4,130.0 L75.0,129.7 L81.2,130.5 L81.0,134.4 L72.0,134.2 L68.4,133.5 Z"/><path fill="#f0e010" d="M108.0,142.0 L115.0,141.4 L124.0,142.5 L129.0,146.0 L127.0,149.5 L118.0,148.5 L110.0,147.0 Z"/><path fill="#f8a000" d="M138.5,151.5 L144.0,150.7 L149.0,153.0 L147.0,156.5 L140.0,155.5 Z"/><path fill="#f0e010" d="M54.4,156.0 L62.0,155.4 L70.0,157.5 L76.6,161.5 L74.0,164.7 L66.0,162.5 L58.0,160.5 L54.4,159.0 Z"/><path fill="#f0e010" d="M52.0,176.4 L54.4,176.4 L54.4,178.7 L52.0,178.7 Z"/><path fill="#f0e010" d="M85.9,151.9 L88.2,151.9 L88.2,153.5 L85.9,153.5 Z"/><path fill="#f08000" d="M166.5,125.0 L168.8,125.0 L168.8,127.4 L166.5,127.4 Z"/><path fill="#f8a000" d="M175.8,120.5 L184.0,120.3 L184.0,124.5 L175.8,125.0 Z"/><path fill="#b4ec3c" d="M127.0,206.0 L133.0,206.0 L133.0,209.0 L127.0,209.0 Z"/><g filter="url(#pb)"><ellipse cx="27" cy="17" rx="3" ry="1.8" fill="#c8f028"/><ellipse cx="31" cy="16.5" rx="2" ry="1" fill="#40c8e0"/><ellipse cx="38" cy="24.5" rx="2" ry="1.2" fill="#40c8e0"/><ellipse cx="51.8" cy="20.8" rx="1.5" ry="1.1" fill="#e84000"/><ellipse cx="57" cy="25" rx="4" ry="2" fill="#f0ec08" transform="rotate(20 57 25)"/><ellipse cx="45" cy="22" rx="4" ry="2" fill="#b4ec3c"/><ellipse cx="38" cy="44.5" rx="4" ry="2" fill="#c8f028"/><ellipse cx="32" cy="43.5" rx="2" ry="1" fill="#f0ec08"/><ellipse cx="32" cy="51" rx="2" ry="1" fill="#40c8e0"/><ellipse cx="48" cy="47" rx="3" ry="2" fill="#b4ec3c"/><ellipse cx="26" cy="55" rx="3" ry="2" fill="#40d0e0"/><ellipse cx="39" cy="58.4" rx="1.3" ry="1.1" fill="#f07800"/><ellipse cx="51.3" cy="61.7" rx="1.3" ry="1.3" fill="#f07800"/><ellipse cx="45" cy="56" rx="4" ry="2" fill="#78e678"/><ellipse cx="29.6" cy="67.2" rx="0.8" ry="0.8" fill="#2050e0"/><ellipse cx="57" cy="70" rx="4" ry="3" fill="#b4ec3c"/><ellipse cx="59" cy="75" rx="3" ry="2" fill="#c8f028"/><ellipse cx="36.5" cy="87" rx="2.5" ry="1.3" fill="#3090e8"/><ellipse cx="55" cy="92" rx="7" ry="2" fill="#78e678"/><ellipse cx="36.5" cy="99" rx="1.5" ry="1.3" fill="#f0ec08"/><ellipse cx="53.5" cy="99.8" rx="1.5" ry="2" fill="#e84000"/><ellipse cx="58" cy="98" rx="2.5" ry="1.5" fill="#b4ec3c"/><ellipse cx="45" cy="94" rx="5" ry="2" fill="#50d8c0"/><ellipse cx="100" cy="75" rx="10" ry="1.5" fill="#a0e860" transform="rotate(14 100 75)"/><ellipse cx="135" cy="82" rx="8" ry="1.5" fill="#e8ea10" transform="rotate(14 135 82)"/><ellipse cx="180" cy="104" rx="18" ry="3" fill="#e02000" transform="rotate(14 180 104)"/><ellipse cx="160" cy="91" rx="10" ry="1.5" fill="#f07000" transform="rotate(14 160 91)"/><ellipse cx="200" cy="100" rx="10" ry="1.5" fill="#f07000" transform="rotate(14 200 100)"/><ellipse cx="225" cy="106" rx="8" ry="1.5" fill="#f08000" transform="rotate(14 225 106)"/><ellipse cx="239.5" cy="122.4" rx="1.2" ry="1.2" fill="#30a0f0"/><ellipse cx="123.7" cy="107" rx="1.2" ry="1.2" fill="#40c8e0"/><ellipse cx="110" cy="115" rx="3" ry="2" fill="#f0e010"/><ellipse cx="124" cy="113" rx="4" ry="2" fill="#60e0b0"/><ellipse cx="130" cy="118" rx="3" ry="2" fill="#f0c000"/><ellipse cx="118" cy="120" rx="3" ry="1.5" fill="#50d0d0"/><ellipse cx="190" cy="125" rx="3" ry="1.5" fill="#78e678"/><ellipse cx="200" cy="127" rx="3" ry="1.5" fill="#f89000"/><ellipse cx="272" cy="130" rx="3" ry="2" fill="#e02000"/><ellipse cx="268" cy="128" rx="3" ry="2" fill="#f08000"/><ellipse cx="283" cy="134" rx="4" ry="2" fill="#f4e808"/><ellipse cx="290" cy="136" rx="2" ry="1" fill="#78e678"/><ellipse cx="278" cy="139" rx="3" ry="2" fill="#f8a000"/><ellipse cx="315" cy="151" rx="3" ry="1.5" fill="#78e678"/><ellipse cx="330" cy="155" rx="4" ry="1.5" fill="#50d8c8"/><ellipse cx="78" cy="132" rx="3" ry="2" fill="#f0d000"/><ellipse cx="118" cy="145" rx="4" ry="1.5" fill="#60d8b0"/><ellipse cx="125" cy="146" rx="2" ry="1.5" fill="#f8a000"/><ellipse cx="143" cy="153" rx="3" ry="1.5" fill="#f0e010"/><ellipse cx="57" cy="157" rx="3" ry="1.5" fill="#78e678"/><ellipse cx="74" cy="162.5" rx="2" ry="1.5" fill="#f8a000"/></g></g></g></g>
<g transform="translate(344,219)"><g filter="url(#sb)"><g clip-path="url(#cBR)"><path fill="#0018b0" d="M41.7,3.1 L48.0,2.9 L54.0,3.1 L54.0,6.6 L48.0,6.8 L41.7,6.6 Z"/><path fill="#80f070" d="M25.1,16.2 L29.0,14.9 L35.1,16.6 L42.1,18.4 L48.3,19.7 L51.8,19.7 L54.4,21.0 L58.8,23.6 L63.2,26.3 L59.7,28.0 L53.5,29.3 L48.3,28.9 L42.1,27.6 L36.9,25.8 L34.7,23.6 L36.0,22.5 L42.1,21.5 L35.1,20.6 L29.0,19.3 L25.5,18.4 Z"/><path fill="#0020c0" d="M23.8,35.0 L27.3,35.9 L27.3,42.0 L23.8,41.0 Z"/><path fill="#80f070" d="M23.8,44.6 L32.5,42.9 L42.1,42.4 L50.0,43.8 L52.7,47.3 L51.8,50.8 L43.9,51.6 L35.1,52.1 L27.3,51.2 L23.8,50.3 Z"/><path fill="#80f070" d="M23.8,53.4 L35.1,53.0 L43.0,52.5 L51.8,53.4 L55.3,56.0 L53.5,61.3 L48.3,63.0 L40.0,62.0 L33.0,61.0 L28.0,60.5 L23.8,60.0 Z"/><path fill="#80f070" d="M23.8,65.5 L35.0,64.8 L50.0,65.0 L58.0,66.0 L60.5,69.0 L63.2,72.5 L63.2,77.8 L54.4,77.8 L51.8,75.1 L46.5,76.0 L35.1,74.3 L23.8,73.4 Z"/><path fill="#48d8e0" d="M66.7,72.5 L70.2,72.5 L70.2,75.6 L66.7,75.6 Z"/><path fill="#80f070" d="M23.8,84.8 L30.8,84.8 L39.5,86.5 L48.3,89.1 L57.0,89.6 L64.9,90.0 L65.8,94.4 L59.7,95.3 L59.7,98.8 L55.3,100.5 L48.3,103.2 L43.9,103.6 L39.5,101.4 L30.8,101.4 L23.8,99.7 Z"/><path fill="#48d8e0" d="M68.4,93.1 L70.6,93.1 L70.6,95.3 L68.4,95.3 Z"/><path fill="#0a18b8" d="M74.1,73.1 L79.3,71.9 L87.5,71.9 L95.7,73.7 L105.0,76.0 L114.4,77.2 L122.6,77.8 L128.4,79.5 L135.4,82.4 L145.0,84.5 L156.7,86.8 L168.4,91.2 L180.0,93.8 L191.7,97.3 L203.4,100.8 L215.0,103.2 L226.7,104.9 L238.4,106.7 L245.4,107.8 L250.0,109.6 L255.9,113.7 L261.7,115.4 L271.0,116.0 L276.9,118.4 L281.6,121.3 L285.0,123.6 L283.9,125.4 L278.0,124.8 L271.0,124.2 L261.7,123.6 L253.5,122.5 L250.0,123.0 L241.9,124.0 L232.5,124.0 L225.0,123.5 L215.0,121.5 L205.0,118.5 L195.0,116.0 L185.0,114.0 L175.0,111.0 L165.0,107.5 L155.0,105.0 L145.0,103.0 L135.4,98.5 L126.0,94.5 L116.7,90.0 L105.0,87.0 L99.2,84.8 L93.4,82.0 L81.7,77.5 L74.1,74.8 Z"/><path fill="#0a14b8" d="M87.5,86.5 L93.4,87.5 L100.4,89.3 L105.0,90.8 L115.0,93.2 L125.0,97.0 L131.9,100.3 L140.0,103.8 L147.0,106.3 L150.0,107.3 L150.5,112.0 L147.0,112.2 L135.9,110.0 L124.2,106.5 L114.0,102.5 L107.4,100.5 L100.8,97.5 L95.0,96.0 L88.7,93.0 Z"/><path fill="#0a20c0" d="M145.0,114.3 L149.0,113.8 L152.0,114.5 L152.0,118.0 L148.0,118.5 L145.0,117.8 Z"/><path fill="#1030d0" d="M106.9,113.0 L115.0,111.0 L125.0,111.0 L133.0,113.0 L135.0,117.0 L131.0,121.0 L122.0,122.7 L112.0,122.0 L107.0,119.0 Z"/><path fill="#1040d8" d="M183.5,123.5 L192.0,123.0 L200.0,124.0 L205.7,125.0 L213.0,128.0 L213.7,133.0 L205.0,133.6 L195.0,131.0 L186.0,128.0 Z"/><path fill="#40c0e0" d="M261.7,127.1 L267.6,126.0 L273.4,127.7 L278.0,130.0 L283.9,131.2 L289.7,134.7 L292.1,136.5 L287.4,138.2 L282.7,140.5 L278.0,141.7 L272.2,137.6 L267.6,134.7 L264.0,130.0 Z"/><path fill="#48d0e8" d="M309.0,148.5 L316.0,149.0 L324.0,150.5 L331.0,152.5 L339.0,156.5 L339.0,159.3 L331.0,157.5 L322.0,155.0 L314.0,152.5 L309.0,151.0 Z"/><path fill="#48d0e0" d="M68.4,130.0 L75.0,129.7 L81.2,130.5 L81.0,134.4 L72.0,134.2 L68.4,133.5 Z"/><path fill="#2050e0" d="M108.0,142.0 L115.0,141.4 L124.0,142.5 L129.0,146.0 L127.0,149.5 L118.0,148.5 L110.0,147.0 Z"/><path fill="#0a20c0" d="M138.5,151.5 L144.0,150.7 L149.0,153.0 L147.0,156.5 L140.0,155.5 Z"/><path fill="#0a20c0" d="M54.4,156.0 L62.0,155.4 L70.0,157.5 L76.6,161.5 L74.0,164.7 L66.0,162.5 L58.0,160.5 L54.4,159.0 Z"/><path fill="#0a20c0" d="M52.0,176.4 L54.4,176.4 L54.4,178.7 L52.0,178.7 Z"/><path fill="#0a20c0" d="M85.9,151.9 L88.2,151.9 L88.2,153.5 L85.9,153.5 Z"/><path fill="#2050e0" d="M166.5,125.0 L168.8,125.0 L168.8,127.4 L166.5,127.4 Z"/><path fill="#0a20c0" d="M175.8,120.5 L184.0,120.3 L184.0,124.5 L175.8,125.0 Z"/><path fill="#2050e0" d="M127.0,206.0 L133.0,206.0 L133.0,209.0 L127.0,209.0 Z"/><g filter="url(#pb)"><ellipse cx="61.7" cy="26" rx="1.2" ry="1.2" fill="#0020c0"/><ellipse cx="24" cy="42.5" rx="1" ry="1" fill="#0020c0"/><ellipse cx="39.5" cy="42" rx="0.7" ry="1.5" fill="#0020c0"/><ellipse cx="29" cy="45.5" rx="1.2" ry="1.2" fill="#40d0e0"/><ellipse cx="49" cy="54" rx="3" ry="2" fill="#48d8e0"/><ellipse cx="52" cy="56" rx="1.5" ry="1.5" fill="#2040d0"/><ellipse cx="45" cy="56" rx="1" ry="2" fill="#2040d0"/><ellipse cx="51" cy="74" rx="2" ry="1.5" fill="#0020c0"/><ellipse cx="55.5" cy="74.5" rx="2" ry="1.5" fill="#0020c0"/><ellipse cx="31" cy="97.7" rx="1.8" ry="1.3" fill="#0020c0"/><ellipse cx="45.5" cy="101.3" rx="2" ry="1.3" fill="#0020c0"/><ellipse cx="58" cy="98" rx="1.3" ry="1" fill="#0020c0"/><ellipse cx="62.4" cy="89.8" rx="2.5" ry="1.5" fill="#0a20c0"/><ellipse cx="40" cy="95" rx="4" ry="2" fill="#a89f7c"/><ellipse cx="100" cy="91" rx="3" ry="1.5" fill="#2050e0"/><ellipse cx="118" cy="100" rx="3" ry="1.5" fill="#40c0e0"/><ellipse cx="115" cy="118" rx="3" ry="2" fill="#40c0e0"/><ellipse cx="125" cy="116" rx="3" ry="2" fill="#0a14b8"/><ellipse cx="190" cy="125" rx="5" ry="2" fill="#40c8e0"/><ellipse cx="199.5" cy="124" rx="2" ry="1.5" fill="#e84000"/><ellipse cx="210" cy="132" rx="3" ry="1.5" fill="#0a14b8"/><ellipse cx="270" cy="129" rx="3" ry="2" fill="#0a20c0"/><ellipse cx="277.5" cy="130.5" rx="2.5" ry="2.5" fill="#e84000"/><ellipse cx="282" cy="135" rx="5" ry="2.5" fill="#f0e010"/><ellipse cx="289" cy="136" rx="2" ry="1.5" fill="#1030d0"/><ellipse cx="282" cy="140" rx="1.5" ry="1" fill="#f0e010"/><ellipse cx="312" cy="150" rx="3" ry="1.5" fill="#0a20c0"/><ellipse cx="326" cy="153" rx="1.5" ry="1.5" fill="#2060e8"/><ellipse cx="331" cy="155" rx="2" ry="1.5" fill="#f0e010"/><ellipse cx="336" cy="157" rx="2.5" ry="1.5" fill="#f06000"/><ellipse cx="339" cy="158" rx="1.5" ry="1" fill="#e02000"/><ellipse cx="75" cy="131" rx="2" ry="1.5" fill="#2040d0"/><ellipse cx="113" cy="143" rx="3" ry="1.5" fill="#48d0e0"/><ellipse cx="120" cy="145" rx="2" ry="1.2" fill="#c8e040"/><ellipse cx="125" cy="147" rx="3" ry="1.5" fill="#0a20c0"/><ellipse cx="60" cy="157" rx="3" ry="1.5" fill="#1030d0"/></g><path d="M79.3,73.7 L87.5,73.7 L95.7,75.5 L105.0,77.8 L114.4,79.0 L122.6,79.6 L128.4,81.3 L135.4,84.2 L145.0,86.3 L156.7,88.6 L168.4,93.0 L180.0,95.6 L191.7,99.1 L203.4,102.6 L215.0,105.0 L226.7,106.7 L238.4,108.5 L245.4,109.6 L250.0,111.4 L255.9,115.5 L261.7,117.2 L271.0,117.8 L276.9,120.2 L281.6,123.1 L278.0,123.0 L271.0,122.4 L261.7,121.8 L253.5,120.7 L250.0,121.2 L241.9,122.2 L232.5,122.2 L225.0,121.7 L215.0,119.7 L205.0,116.7 L195.0,114.2 L185.0,112.2 L175.0,109.2 L165.0,105.7 L155.0,103.2 L145.0,101.2 L135.4,96.7 L126.0,92.7 L116.7,88.2 L105.0,85.2 L99.2,83.0 L93.4,80.2 L81.7,75.7 Z" fill="url(#gBR)" filter="url(#pb)"/><g filter="url(#pb)"><ellipse cx="108" cy="82" rx="4" ry="2" fill="#3080e8" transform="rotate(14 108 82)"/><ellipse cx="125" cy="88" rx="6" ry="2" fill="#0a18b8" transform="rotate(14 125 88)"/><ellipse cx="150" cy="93" rx="4" ry="2" fill="#40c8e8" transform="rotate(14 150 93)"/><ellipse cx="162" cy="97" rx="5" ry="2.5" fill="#a0e080" transform="rotate(14 162 97)"/><ellipse cx="172" cy="99" rx="4" ry="2" fill="#40d0e0" transform="rotate(14 172 99)"/><ellipse cx="180" cy="98" rx="5" ry="1.5" fill="#1030c8" transform="rotate(14 180 98)"/><ellipse cx="196" cy="106" rx="6" ry="2" fill="#40b8f0" transform="rotate(14 196 106)"/><ellipse cx="208" cy="114" rx="8" ry="2" fill="#0a18b8" transform="rotate(14 208 114)"/><ellipse cx="229" cy="114" rx="3" ry="2.5" fill="#f0e000" transform="rotate(14 229 114)"/><ellipse cx="230" cy="113" rx="1.5" ry="1.2" fill="#f08000"/><ellipse cx="241" cy="115" rx="1.8" ry="1.8" fill="#f0e000"/><ellipse cx="247" cy="114" rx="3" ry="1.5" fill="#50d8e0"/><ellipse cx="258" cy="117" rx="5" ry="1.5" fill="#1838d0" transform="rotate(14 258 117)"/><ellipse cx="185" cy="104" rx="4" ry="2" fill="#50d8e0" transform="rotate(14 185 104)"/><ellipse cx="135" cy="90" rx="4" ry="1.5" fill="#2060e0" transform="rotate(14 135 90)"/><ellipse cx="92" cy="77" rx="4" ry="2" fill="#40d0e0" transform="rotate(14 92 77)"/></g></g></g></g>
<rect x="341" y="0" width="26" height="223" fill="#fff"/>
<rect x="0" y="209" width="685" height="14" fill="#fff"/>
<rect x="341" y="223" width="27" height="210" fill="#fff"/>
<rect x="0" y="427" width="685" height="43" fill="#fff"/>
<rect x="683" y="0" width="2" height="470" fill="#fff"/>

<text class="ti" x="147.6" y="28.5">2004-2010</text>
<text class="ti" x="492.6" y="28.3">2004-2010</text>
<text class="ti" x="147.2" y="244.2">2014-2015</text>
<text class="ti" x="492.6" y="244.2">2014-2015</text>

<rect x="23.8" y="188.8" width="72.3" height="20.5" fill="#fff"/>
<text class="lb" x="35.2" y="203.4" textLength="48.5" lengthAdjust="spacingAndGlyphs">Up-Down</text>
<rect x="366.6" y="188.8" width="78.8" height="20.5" fill="#fff"/>
<text class="lb" x="379" y="203.4" textLength="53.6" lengthAdjust="spacingAndGlyphs">East-West</text>
<rect x="24.6" y="409" width="71.5" height="18" fill="#fff"/>
<text class="lb" x="35.2" y="423.4" textLength="48.5" lengthAdjust="spacingAndGlyphs">Up-Down</text>
<rect x="367.3" y="406.6" width="78.1" height="20.4" fill="#fff"/>
<text class="lb" x="379" y="421.2" textLength="53.6" lengthAdjust="spacingAndGlyphs">East-West</text>

<text x="159.3" y="165.1" textLength="59.8" lengthAdjust="spacingAndGlyphs" style="font-size:21px;font-weight:bold;fill:#fff">250 m</text>
<path d="M161,166.5 V182.5 M207.6,166.5 V182.5 M161,174.7 H207.6" stroke="#fff" stroke-width="1.6" fill="none"/>

<text class="tk" x="22.7" y="7.0" text-anchor="end">36.64</text><text class="tk" x="22.7" y="26.0" text-anchor="end">36.638</text><text class="tk" x="22.7" y="45.0" text-anchor="end">36.636</text><text class="tk" x="22.7" y="64.0" text-anchor="end">36.634</text><text class="tk" x="22.7" y="83.0" text-anchor="end">36.632</text><text class="tk" x="22.7" y="102.0" text-anchor="end">36.63</text><text class="tk" x="22.7" y="121.0" text-anchor="end">36.628</text><text class="tk" x="22.7" y="140.0" text-anchor="end">36.626</text><text class="tk" x="22.7" y="159.0" text-anchor="end">36.624</text><text class="tk" x="22.7" y="178.0" text-anchor="end">36.622</text><text class="tk" x="22.7" y="197.0" text-anchor="end">36.62</text><text class="tk" x="365.7" y="7.0" text-anchor="end">36.64</text><text class="tk" x="365.7" y="26.0" text-anchor="end">36.638</text><text class="tk" x="365.7" y="45.0" text-anchor="end">36.636</text><text class="tk" x="365.7" y="64.0" text-anchor="end">36.634</text><text class="tk" x="365.7" y="83.0" text-anchor="end">36.632</text><text class="tk" x="365.7" y="102.0" text-anchor="end">36.63</text><text class="tk" x="365.7" y="121.0" text-anchor="end">36.628</text><text class="tk" x="365.7" y="140.0" text-anchor="end">36.626</text><text class="tk" x="365.7" y="159.0" text-anchor="end">36.624</text><text class="tk" x="365.7" y="178.0" text-anchor="end">36.622</text><text class="tk" x="365.7" y="197.0" text-anchor="end">36.62</text><text class="tk" x="23.7" y="226.0" text-anchor="end">36.64</text><text class="tk" x="23.7" y="245.0" text-anchor="end">36.638</text><text class="tk" x="23.7" y="264.0" text-anchor="end">36.636</text><text class="tk" x="23.7" y="283.0" text-anchor="end">36.634</text><text class="tk" x="23.7" y="302.0" text-anchor="end">36.632</text><text class="tk" x="23.7" y="321.0" text-anchor="end">36.63</text><text class="tk" x="23.7" y="340.0" text-anchor="end">36.628</text><text class="tk" x="23.7" y="359.0" text-anchor="end">36.626</text><text class="tk" x="23.7" y="378.0" text-anchor="end">36.624</text><text class="tk" x="23.7" y="397.0" text-anchor="end">36.622</text><text class="tk" x="23.7" y="416.0" text-anchor="end">36.62</text><text class="tk" x="366.7" y="226.0" text-anchor="end">36.64</text><text class="tk" x="366.7" y="245.0" text-anchor="end">36.638</text><text class="tk" x="366.7" y="264.0" text-anchor="end">36.636</text><text class="tk" x="366.7" y="283.0" text-anchor="end">36.634</text><text class="tk" x="366.7" y="302.0" text-anchor="end">36.632</text><text class="tk" x="366.7" y="321.0" text-anchor="end">36.63</text><text class="tk" x="366.7" y="340.0" text-anchor="end">36.628</text><text class="tk" x="366.7" y="359.0" text-anchor="end">36.626</text><text class="tk" x="366.7" y="378.0" text-anchor="end">36.624</text><text class="tk" x="366.7" y="397.0" text-anchor="end">36.622</text><text class="tk" x="366.7" y="416.0" text-anchor="end">36.62</text>
<text class="tk" x="51.0" y="217" text-anchor="middle">42.81</text><text class="tk" x="93.8" y="217" text-anchor="middle">42.815</text><text class="tk" x="136.6" y="217" text-anchor="middle">42.82</text><text class="tk" x="179.4" y="217" text-anchor="middle">42.825</text><text class="tk" x="222.2" y="217" text-anchor="middle">42.83</text><text class="tk" x="265.0" y="217" text-anchor="middle">42.835</text><text class="tk" x="307.8" y="217" text-anchor="middle">42.84</text><text class="tk" x="394.0" y="217" text-anchor="middle">42.81</text><text class="tk" x="436.8" y="217" text-anchor="middle">42.815</text><text class="tk" x="479.6" y="217" text-anchor="middle">42.82</text><text class="tk" x="522.4" y="217" text-anchor="middle">42.825</text><text class="tk" x="565.2" y="217" text-anchor="middle">42.83</text><text class="tk" x="608.0" y="217" text-anchor="middle">42.835</text><text class="tk" x="650.8" y="217" text-anchor="middle">42.84</text>

<rect x="77" y="441" width="206.3" height="7.4" fill="url(#jet)"/>
<rect x="416.7" y="441" width="206.2" height="7.4" fill="url(#jet)"/>
<path d="M91.7,441V448.4 M121.2,441V448.4 M150.6,441V448.4 M180.1,441V448.4 M209.6,441V448.4 M239,441V448.4 M268.5,441V448.4 M431.4,441V448.4 M460.9,441V448.4 M490.3,441V448.4 M519.8,441V448.4 M549.2,441V448.4 M578.7,441V448.4 M608.1,441V448.4" stroke="#000" stroke-opacity="0.35" stroke-width="0.8"/>
<text class="cb" x="63.5" y="466.5">+16</text>
<text class="cb" x="177.6" y="466.5">0</text>
<text class="cb" x="192.4" y="466.5">mm/year</text>
<text class="cb" x="270.6" y="466.5">-16</text>
<text class="cb" x="410.4" y="466.5">+6</text>
<text class="cb" x="516.2" y="466.5">0</text>
<text class="cb" x="611.6" y="466.5">-6</text>
</svg>
</body></html>
